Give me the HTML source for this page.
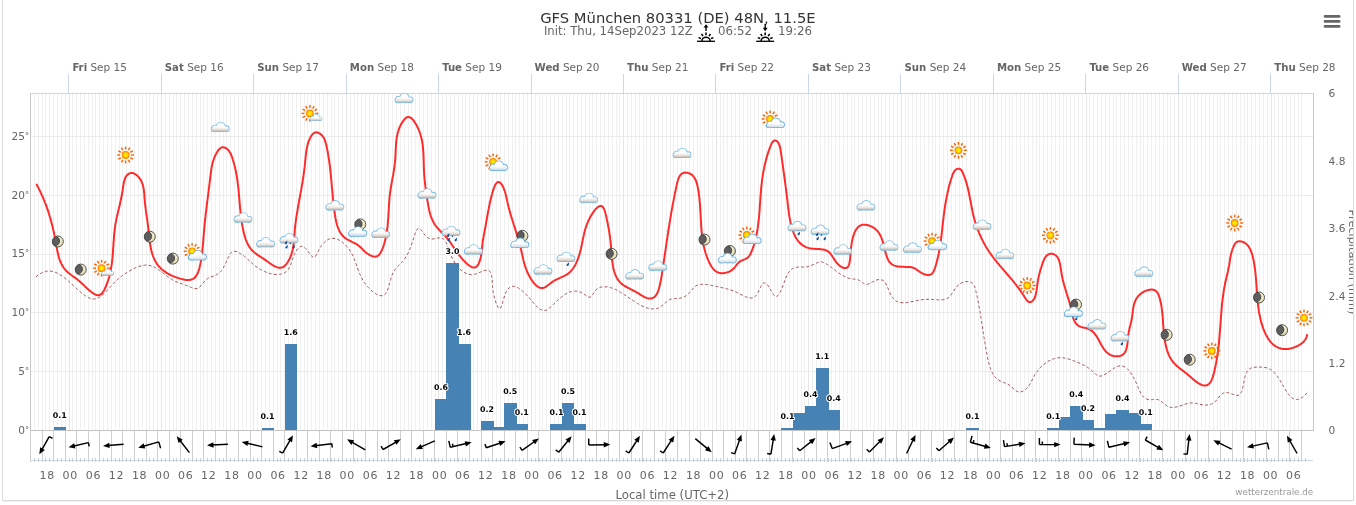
<!DOCTYPE html><html><head><meta charset="utf-8"><title>GFS München</title><style>
html,body{margin:0;padding:0;background:#fff;width:1356px;height:505px;overflow:hidden}
svg{display:block;will-change:transform}svg text{font-family:"DejaVu Sans","Liberation Sans",sans-serif}
.lbl{fill:#666;font-size:10.6px}.dl{font-size:7.9px;font-weight:bold;fill:#000;stroke:#fff;stroke-width:2px;paint-order:stroke;stroke-linejoin:round;text-anchor:middle}
</style></head><body>
<svg width="1356" height="505" viewBox="0 0 1356 505">
<defs>
<radialGradient id="sg" cx="50%" cy="50%" r="50%"><stop offset="0" stop-color="#ffff00"/><stop offset="0.55" stop-color="#ffd000"/><stop offset="1" stop-color="#ff7000"/></radialGradient>
<linearGradient id="cg" x1="0" y1="0" x2="0" y2="1"><stop offset="0" stop-color="#ffffff"/><stop offset="0.55" stop-color="#fbfbfb"/><stop offset="0.8" stop-color="#e4ddd8"/><stop offset="1" stop-color="#b9b4b0"/></linearGradient>
<g id="sun"><g stroke="#ff6200" stroke-width="1.45" stroke-linecap="butt">
<line x1="0.00" y1="-5.50" x2="0.00" y2="-8.40"/>
<line x1="2.75" y1="-4.76" x2="4.20" y2="-7.27"/>
<line x1="4.76" y1="-2.75" x2="7.27" y2="-4.20"/>
<line x1="5.50" y1="-0.00" x2="8.40" y2="-0.00"/>
<line x1="4.76" y1="2.75" x2="7.27" y2="4.20"/>
<line x1="2.75" y1="4.76" x2="4.20" y2="7.27"/>
<line x1="0.00" y1="5.50" x2="0.00" y2="8.40"/>
<line x1="-2.75" y1="4.76" x2="-4.20" y2="7.27"/>
<line x1="-4.76" y1="2.75" x2="-7.27" y2="4.20"/>
<line x1="-5.50" y1="0.00" x2="-8.40" y2="0.00"/>
<line x1="-4.76" y1="-2.75" x2="-7.27" y2="-4.20"/>
<line x1="-2.75" y1="-4.76" x2="-4.20" y2="-7.27"/>
</g><circle r="3.9" fill="url(#sg)"/></g>
<linearGradient id="cg2" gradientUnits="userSpaceOnUse" x1="0" y1="-5.5" x2="0" y2="4.6"><stop offset="0" stop-color="#ffffff"/><stop offset="0.55" stop-color="#fcfcfc"/><stop offset="0.78" stop-color="#ece6e0"/><stop offset="1" stop-color="#c2bbb5"/></linearGradient>
<linearGradient id="cg3" gradientUnits="userSpaceOnUse" x1="0" y1="-5.5" x2="0" y2="4.6"><stop offset="0" stop-color="#ffffff"/><stop offset="0.6" stop-color="#fdfdfd"/><stop offset="0.8" stop-color="#e6eef4"/><stop offset="1" stop-color="#cfdde8"/></linearGradient>
<g id="clb" transform="scale(0.94)"><g stroke="#6cb3e0" stroke-width="1.9" fill="#6cb3e0"><circle cx="-5.0" cy="1.6" r="3.0"/><circle cx="0.9" cy="-0.1" r="4.6"/><circle cx="6.9" cy="1.9" r="2.7"/><circle cx="-6.6" cy="2.4" r="2.1"/><rect x="-6.6" y="1.0" width="13.5" height="3.5"/></g><g fill="url(#cg3)"><circle cx="-5.0" cy="1.6" r="3.0"/><circle cx="0.9" cy="-0.1" r="4.6"/><circle cx="6.9" cy="1.9" r="2.7"/><circle cx="-6.6" cy="2.4" r="2.1"/><rect x="-6.6" y="1.0" width="13.5" height="3.5"/></g></g>
<g id="cl" transform="scale(0.94)"><g stroke="#7cbde6" stroke-width="1.8" fill="#7cbde6"><circle cx="-5.0" cy="1.6" r="3.0"/><circle cx="0.9" cy="-0.1" r="4.6"/><circle cx="6.9" cy="1.9" r="2.7"/><circle cx="-6.6" cy="2.4" r="2.1"/><rect x="-6.6" y="1.0" width="13.5" height="3.5"/></g><g fill="url(#cg2)"><circle cx="-5.0" cy="1.6" r="3.0"/><circle cx="0.9" cy="-0.1" r="4.6"/><circle cx="6.9" cy="1.9" r="2.7"/><circle cx="-6.6" cy="2.4" r="2.1"/><rect x="-6.6" y="1.0" width="13.5" height="3.5"/></g></g>
<clipPath id="mc"><circle r="5.5"/></clipPath><linearGradient id="mg" x1="0" y1="0" x2="0" y2="1"><stop offset="0" stop-color="#f6f3d6"/><stop offset="1" stop-color="#e2dcb0"/></linearGradient>
<g id="moon"><circle r="5.5" fill="url(#mg)"/><circle cx="-3.1" cy="-0.5" r="4.9" fill="#5d5d5d" stroke="#3c3c3c" stroke-width="0.8" clip-path="url(#mc)"/><circle r="5.5" fill="none" stroke="#3c3c3c" stroke-width="0.9"/></g>
<g id="drop"><path d="M1.3,-1.7 L-0.7,0.0 A1.05,1.05 0 1 0 0.9,1.0 Z" fill="#0b4c9e"/></g>
</defs>
<rect x="2.5" y="-5" width="1351" height="505.5" fill="none" stroke="#dadada" stroke-width="1"/>
<line x1="3" y1="501.5" x2="1353" y2="501.5" stroke="#f1f1f1" stroke-width="1"/>
<g stroke-width="1"><line x1="34.5" y1="94" x2="34.5" y2="430" stroke="#f0f0f0"/><line x1="38.5" y1="94" x2="38.5" y2="430" stroke="#f0f0f0"/><line x1="42.5" y1="94" x2="42.5" y2="430" stroke="#f0f0f0"/><line x1="45.5" y1="94" x2="45.5" y2="430" stroke="#f0f0f0"/><line x1="49.5" y1="94" x2="49.5" y2="430" stroke="#f0f0f0"/><line x1="53.5" y1="94" x2="53.5" y2="430" stroke="#f0f0f0"/><line x1="57.5" y1="94" x2="57.5" y2="430" stroke="#f0f0f0"/><line x1="61.5" y1="94" x2="61.5" y2="430" stroke="#f0f0f0"/><line x1="65.5" y1="94" x2="65.5" y2="430" stroke="#f0f0f0"/><line x1="69.5" y1="94" x2="69.5" y2="430" stroke="#e6e6e6"/><line x1="72.5" y1="94" x2="72.5" y2="430" stroke="#f0f0f0"/><line x1="76.5" y1="94" x2="76.5" y2="430" stroke="#f0f0f0"/><line x1="80.5" y1="94" x2="80.5" y2="430" stroke="#f0f0f0"/><line x1="84.5" y1="94" x2="84.5" y2="430" stroke="#f0f0f0"/><line x1="88.5" y1="94" x2="88.5" y2="430" stroke="#f0f0f0"/><line x1="92.5" y1="94" x2="92.5" y2="430" stroke="#f0f0f0"/><line x1="95.5" y1="94" x2="95.5" y2="430" stroke="#f0f0f0"/><line x1="99.5" y1="94" x2="99.5" y2="430" stroke="#f0f0f0"/><line x1="103.5" y1="94" x2="103.5" y2="430" stroke="#f0f0f0"/><line x1="107.5" y1="94" x2="107.5" y2="430" stroke="#f0f0f0"/><line x1="111.5" y1="94" x2="111.5" y2="430" stroke="#f0f0f0"/><line x1="115.5" y1="94" x2="115.5" y2="430" stroke="#f0f0f0"/><line x1="119.5" y1="94" x2="119.5" y2="430" stroke="#f0f0f0"/><line x1="122.5" y1="94" x2="122.5" y2="430" stroke="#f0f0f0"/><line x1="126.5" y1="94" x2="126.5" y2="430" stroke="#f0f0f0"/><line x1="130.5" y1="94" x2="130.5" y2="430" stroke="#f0f0f0"/><line x1="134.5" y1="94" x2="134.5" y2="430" stroke="#f0f0f0"/><line x1="138.5" y1="94" x2="138.5" y2="430" stroke="#f0f0f0"/><line x1="142.5" y1="94" x2="142.5" y2="430" stroke="#f0f0f0"/><line x1="146.5" y1="94" x2="146.5" y2="430" stroke="#f0f0f0"/><line x1="149.5" y1="94" x2="149.5" y2="430" stroke="#f0f0f0"/><line x1="153.5" y1="94" x2="153.5" y2="430" stroke="#f0f0f0"/><line x1="157.5" y1="94" x2="157.5" y2="430" stroke="#f0f0f0"/><line x1="161.5" y1="94" x2="161.5" y2="430" stroke="#e6e6e6"/><line x1="165.5" y1="94" x2="165.5" y2="430" stroke="#f0f0f0"/><line x1="169.5" y1="94" x2="169.5" y2="430" stroke="#f0f0f0"/><line x1="173.5" y1="94" x2="173.5" y2="430" stroke="#f0f0f0"/><line x1="176.5" y1="94" x2="176.5" y2="430" stroke="#f0f0f0"/><line x1="180.5" y1="94" x2="180.5" y2="430" stroke="#f0f0f0"/><line x1="184.5" y1="94" x2="184.5" y2="430" stroke="#f0f0f0"/><line x1="188.5" y1="94" x2="188.5" y2="430" stroke="#f0f0f0"/><line x1="192.5" y1="94" x2="192.5" y2="430" stroke="#f0f0f0"/><line x1="196.5" y1="94" x2="196.5" y2="430" stroke="#f0f0f0"/><line x1="200.5" y1="94" x2="200.5" y2="430" stroke="#f0f0f0"/><line x1="203.5" y1="94" x2="203.5" y2="430" stroke="#f0f0f0"/><line x1="207.5" y1="94" x2="207.5" y2="430" stroke="#f0f0f0"/><line x1="211.5" y1="94" x2="211.5" y2="430" stroke="#f0f0f0"/><line x1="215.5" y1="94" x2="215.5" y2="430" stroke="#f0f0f0"/><line x1="219.5" y1="94" x2="219.5" y2="430" stroke="#f0f0f0"/><line x1="223.5" y1="94" x2="223.5" y2="430" stroke="#f0f0f0"/><line x1="226.5" y1="94" x2="226.5" y2="430" stroke="#f0f0f0"/><line x1="230.5" y1="94" x2="230.5" y2="430" stroke="#f0f0f0"/><line x1="234.5" y1="94" x2="234.5" y2="430" stroke="#f0f0f0"/><line x1="238.5" y1="94" x2="238.5" y2="430" stroke="#f0f0f0"/><line x1="242.5" y1="94" x2="242.5" y2="430" stroke="#f0f0f0"/><line x1="246.5" y1="94" x2="246.5" y2="430" stroke="#f0f0f0"/><line x1="250.5" y1="94" x2="250.5" y2="430" stroke="#f0f0f0"/><line x1="253.5" y1="94" x2="253.5" y2="430" stroke="#e6e6e6"/><line x1="257.5" y1="94" x2="257.5" y2="430" stroke="#f0f0f0"/><line x1="261.5" y1="94" x2="261.5" y2="430" stroke="#f0f0f0"/><line x1="265.5" y1="94" x2="265.5" y2="430" stroke="#f0f0f0"/><line x1="269.5" y1="94" x2="269.5" y2="430" stroke="#f0f0f0"/><line x1="273.5" y1="94" x2="273.5" y2="430" stroke="#f0f0f0"/><line x1="277.5" y1="94" x2="277.5" y2="430" stroke="#f0f0f0"/><line x1="280.5" y1="94" x2="280.5" y2="430" stroke="#f0f0f0"/><line x1="284.5" y1="94" x2="284.5" y2="430" stroke="#f0f0f0"/><line x1="288.5" y1="94" x2="288.5" y2="430" stroke="#f0f0f0"/><line x1="292.5" y1="94" x2="292.5" y2="430" stroke="#f0f0f0"/><line x1="296.5" y1="94" x2="296.5" y2="430" stroke="#f0f0f0"/><line x1="300.5" y1="94" x2="300.5" y2="430" stroke="#f0f0f0"/><line x1="304.5" y1="94" x2="304.5" y2="430" stroke="#f0f0f0"/><line x1="307.5" y1="94" x2="307.5" y2="430" stroke="#f0f0f0"/><line x1="311.5" y1="94" x2="311.5" y2="430" stroke="#f0f0f0"/><line x1="315.5" y1="94" x2="315.5" y2="430" stroke="#f0f0f0"/><line x1="319.5" y1="94" x2="319.5" y2="430" stroke="#f0f0f0"/><line x1="323.5" y1="94" x2="323.5" y2="430" stroke="#f0f0f0"/><line x1="327.5" y1="94" x2="327.5" y2="430" stroke="#f0f0f0"/><line x1="331.5" y1="94" x2="331.5" y2="430" stroke="#f0f0f0"/><line x1="334.5" y1="94" x2="334.5" y2="430" stroke="#f0f0f0"/><line x1="338.5" y1="94" x2="338.5" y2="430" stroke="#f0f0f0"/><line x1="342.5" y1="94" x2="342.5" y2="430" stroke="#f0f0f0"/><line x1="346.5" y1="94" x2="346.5" y2="430" stroke="#e6e6e6"/><line x1="350.5" y1="94" x2="350.5" y2="430" stroke="#f0f0f0"/><line x1="354.5" y1="94" x2="354.5" y2="430" stroke="#f0f0f0"/><line x1="357.5" y1="94" x2="357.5" y2="430" stroke="#f0f0f0"/><line x1="361.5" y1="94" x2="361.5" y2="430" stroke="#f0f0f0"/><line x1="365.5" y1="94" x2="365.5" y2="430" stroke="#f0f0f0"/><line x1="369.5" y1="94" x2="369.5" y2="430" stroke="#f0f0f0"/><line x1="373.5" y1="94" x2="373.5" y2="430" stroke="#f0f0f0"/><line x1="377.5" y1="94" x2="377.5" y2="430" stroke="#f0f0f0"/><line x1="381.5" y1="94" x2="381.5" y2="430" stroke="#f0f0f0"/><line x1="384.5" y1="94" x2="384.5" y2="430" stroke="#f0f0f0"/><line x1="388.5" y1="94" x2="388.5" y2="430" stroke="#f0f0f0"/><line x1="392.5" y1="94" x2="392.5" y2="430" stroke="#f0f0f0"/><line x1="396.5" y1="94" x2="396.5" y2="430" stroke="#f0f0f0"/><line x1="400.5" y1="94" x2="400.5" y2="430" stroke="#f0f0f0"/><line x1="404.5" y1="94" x2="404.5" y2="430" stroke="#f0f0f0"/><line x1="408.5" y1="94" x2="408.5" y2="430" stroke="#f0f0f0"/><line x1="411.5" y1="94" x2="411.5" y2="430" stroke="#f0f0f0"/><line x1="415.5" y1="94" x2="415.5" y2="430" stroke="#f0f0f0"/><line x1="419.5" y1="94" x2="419.5" y2="430" stroke="#f0f0f0"/><line x1="423.5" y1="94" x2="423.5" y2="430" stroke="#f0f0f0"/><line x1="427.5" y1="94" x2="427.5" y2="430" stroke="#f0f0f0"/><line x1="431.5" y1="94" x2="431.5" y2="430" stroke="#f0f0f0"/><line x1="435.5" y1="94" x2="435.5" y2="430" stroke="#f0f0f0"/><line x1="438.5" y1="94" x2="438.5" y2="430" stroke="#e6e6e6"/><line x1="442.5" y1="94" x2="442.5" y2="430" stroke="#f0f0f0"/><line x1="446.5" y1="94" x2="446.5" y2="430" stroke="#f0f0f0"/><line x1="450.5" y1="94" x2="450.5" y2="430" stroke="#f0f0f0"/><line x1="454.5" y1="94" x2="454.5" y2="430" stroke="#f0f0f0"/><line x1="458.5" y1="94" x2="458.5" y2="430" stroke="#f0f0f0"/><line x1="462.5" y1="94" x2="462.5" y2="430" stroke="#f0f0f0"/><line x1="465.5" y1="94" x2="465.5" y2="430" stroke="#f0f0f0"/><line x1="469.5" y1="94" x2="469.5" y2="430" stroke="#f0f0f0"/><line x1="473.5" y1="94" x2="473.5" y2="430" stroke="#f0f0f0"/><line x1="477.5" y1="94" x2="477.5" y2="430" stroke="#f0f0f0"/><line x1="481.5" y1="94" x2="481.5" y2="430" stroke="#f0f0f0"/><line x1="485.5" y1="94" x2="485.5" y2="430" stroke="#f0f0f0"/><line x1="488.5" y1="94" x2="488.5" y2="430" stroke="#f0f0f0"/><line x1="492.5" y1="94" x2="492.5" y2="430" stroke="#f0f0f0"/><line x1="496.5" y1="94" x2="496.5" y2="430" stroke="#f0f0f0"/><line x1="500.5" y1="94" x2="500.5" y2="430" stroke="#f0f0f0"/><line x1="504.5" y1="94" x2="504.5" y2="430" stroke="#f0f0f0"/><line x1="508.5" y1="94" x2="508.5" y2="430" stroke="#f0f0f0"/><line x1="512.5" y1="94" x2="512.5" y2="430" stroke="#f0f0f0"/><line x1="515.5" y1="94" x2="515.5" y2="430" stroke="#f0f0f0"/><line x1="519.5" y1="94" x2="519.5" y2="430" stroke="#f0f0f0"/><line x1="523.5" y1="94" x2="523.5" y2="430" stroke="#f0f0f0"/><line x1="527.5" y1="94" x2="527.5" y2="430" stroke="#f0f0f0"/><line x1="531.5" y1="94" x2="531.5" y2="430" stroke="#e6e6e6"/><line x1="535.5" y1="94" x2="535.5" y2="430" stroke="#f0f0f0"/><line x1="539.5" y1="94" x2="539.5" y2="430" stroke="#f0f0f0"/><line x1="542.5" y1="94" x2="542.5" y2="430" stroke="#f0f0f0"/><line x1="546.5" y1="94" x2="546.5" y2="430" stroke="#f0f0f0"/><line x1="550.5" y1="94" x2="550.5" y2="430" stroke="#f0f0f0"/><line x1="554.5" y1="94" x2="554.5" y2="430" stroke="#f0f0f0"/><line x1="558.5" y1="94" x2="558.5" y2="430" stroke="#f0f0f0"/><line x1="562.5" y1="94" x2="562.5" y2="430" stroke="#f0f0f0"/><line x1="566.5" y1="94" x2="566.5" y2="430" stroke="#f0f0f0"/><line x1="569.5" y1="94" x2="569.5" y2="430" stroke="#f0f0f0"/><line x1="573.5" y1="94" x2="573.5" y2="430" stroke="#f0f0f0"/><line x1="577.5" y1="94" x2="577.5" y2="430" stroke="#f0f0f0"/><line x1="581.5" y1="94" x2="581.5" y2="430" stroke="#f0f0f0"/><line x1="585.5" y1="94" x2="585.5" y2="430" stroke="#f0f0f0"/><line x1="589.5" y1="94" x2="589.5" y2="430" stroke="#f0f0f0"/><line x1="592.5" y1="94" x2="592.5" y2="430" stroke="#f0f0f0"/><line x1="596.5" y1="94" x2="596.5" y2="430" stroke="#f0f0f0"/><line x1="600.5" y1="94" x2="600.5" y2="430" stroke="#f0f0f0"/><line x1="604.5" y1="94" x2="604.5" y2="430" stroke="#f0f0f0"/><line x1="608.5" y1="94" x2="608.5" y2="430" stroke="#f0f0f0"/><line x1="612.5" y1="94" x2="612.5" y2="430" stroke="#f0f0f0"/><line x1="616.5" y1="94" x2="616.5" y2="430" stroke="#f0f0f0"/><line x1="619.5" y1="94" x2="619.5" y2="430" stroke="#f0f0f0"/><line x1="623.5" y1="94" x2="623.5" y2="430" stroke="#e6e6e6"/><line x1="627.5" y1="94" x2="627.5" y2="430" stroke="#f0f0f0"/><line x1="631.5" y1="94" x2="631.5" y2="430" stroke="#f0f0f0"/><line x1="635.5" y1="94" x2="635.5" y2="430" stroke="#f0f0f0"/><line x1="639.5" y1="94" x2="639.5" y2="430" stroke="#f0f0f0"/><line x1="643.5" y1="94" x2="643.5" y2="430" stroke="#f0f0f0"/><line x1="646.5" y1="94" x2="646.5" y2="430" stroke="#f0f0f0"/><line x1="650.5" y1="94" x2="650.5" y2="430" stroke="#f0f0f0"/><line x1="654.5" y1="94" x2="654.5" y2="430" stroke="#f0f0f0"/><line x1="658.5" y1="94" x2="658.5" y2="430" stroke="#f0f0f0"/><line x1="662.5" y1="94" x2="662.5" y2="430" stroke="#f0f0f0"/><line x1="666.5" y1="94" x2="666.5" y2="430" stroke="#f0f0f0"/><line x1="670.5" y1="94" x2="670.5" y2="430" stroke="#f0f0f0"/><line x1="673.5" y1="94" x2="673.5" y2="430" stroke="#f0f0f0"/><line x1="677.5" y1="94" x2="677.5" y2="430" stroke="#f0f0f0"/><line x1="681.5" y1="94" x2="681.5" y2="430" stroke="#f0f0f0"/><line x1="685.5" y1="94" x2="685.5" y2="430" stroke="#f0f0f0"/><line x1="689.5" y1="94" x2="689.5" y2="430" stroke="#f0f0f0"/><line x1="693.5" y1="94" x2="693.5" y2="430" stroke="#f0f0f0"/><line x1="697.5" y1="94" x2="697.5" y2="430" stroke="#f0f0f0"/><line x1="700.5" y1="94" x2="700.5" y2="430" stroke="#f0f0f0"/><line x1="704.5" y1="94" x2="704.5" y2="430" stroke="#f0f0f0"/><line x1="708.5" y1="94" x2="708.5" y2="430" stroke="#f0f0f0"/><line x1="712.5" y1="94" x2="712.5" y2="430" stroke="#f0f0f0"/><line x1="716.5" y1="94" x2="716.5" y2="430" stroke="#e6e6e6"/><line x1="720.5" y1="94" x2="720.5" y2="430" stroke="#f0f0f0"/><line x1="723.5" y1="94" x2="723.5" y2="430" stroke="#f0f0f0"/><line x1="727.5" y1="94" x2="727.5" y2="430" stroke="#f0f0f0"/><line x1="731.5" y1="94" x2="731.5" y2="430" stroke="#f0f0f0"/><line x1="735.5" y1="94" x2="735.5" y2="430" stroke="#f0f0f0"/><line x1="739.5" y1="94" x2="739.5" y2="430" stroke="#f0f0f0"/><line x1="743.5" y1="94" x2="743.5" y2="430" stroke="#f0f0f0"/><line x1="747.5" y1="94" x2="747.5" y2="430" stroke="#f0f0f0"/><line x1="750.5" y1="94" x2="750.5" y2="430" stroke="#f0f0f0"/><line x1="754.5" y1="94" x2="754.5" y2="430" stroke="#f0f0f0"/><line x1="758.5" y1="94" x2="758.5" y2="430" stroke="#f0f0f0"/><line x1="762.5" y1="94" x2="762.5" y2="430" stroke="#f0f0f0"/><line x1="766.5" y1="94" x2="766.5" y2="430" stroke="#f0f0f0"/><line x1="770.5" y1="94" x2="770.5" y2="430" stroke="#f0f0f0"/><line x1="774.5" y1="94" x2="774.5" y2="430" stroke="#f0f0f0"/><line x1="777.5" y1="94" x2="777.5" y2="430" stroke="#f0f0f0"/><line x1="781.5" y1="94" x2="781.5" y2="430" stroke="#f0f0f0"/><line x1="785.5" y1="94" x2="785.5" y2="430" stroke="#f0f0f0"/><line x1="789.5" y1="94" x2="789.5" y2="430" stroke="#f0f0f0"/><line x1="793.5" y1="94" x2="793.5" y2="430" stroke="#f0f0f0"/><line x1="797.5" y1="94" x2="797.5" y2="430" stroke="#f0f0f0"/><line x1="801.5" y1="94" x2="801.5" y2="430" stroke="#f0f0f0"/><line x1="804.5" y1="94" x2="804.5" y2="430" stroke="#f0f0f0"/><line x1="808.5" y1="94" x2="808.5" y2="430" stroke="#e6e6e6"/><line x1="812.5" y1="94" x2="812.5" y2="430" stroke="#f0f0f0"/><line x1="816.5" y1="94" x2="816.5" y2="430" stroke="#f0f0f0"/><line x1="820.5" y1="94" x2="820.5" y2="430" stroke="#f0f0f0"/><line x1="824.5" y1="94" x2="824.5" y2="430" stroke="#f0f0f0"/><line x1="828.5" y1="94" x2="828.5" y2="430" stroke="#f0f0f0"/><line x1="831.5" y1="94" x2="831.5" y2="430" stroke="#f0f0f0"/><line x1="835.5" y1="94" x2="835.5" y2="430" stroke="#f0f0f0"/><line x1="839.5" y1="94" x2="839.5" y2="430" stroke="#f0f0f0"/><line x1="843.5" y1="94" x2="843.5" y2="430" stroke="#f0f0f0"/><line x1="847.5" y1="94" x2="847.5" y2="430" stroke="#f0f0f0"/><line x1="851.5" y1="94" x2="851.5" y2="430" stroke="#f0f0f0"/><line x1="854.5" y1="94" x2="854.5" y2="430" stroke="#f0f0f0"/><line x1="858.5" y1="94" x2="858.5" y2="430" stroke="#f0f0f0"/><line x1="862.5" y1="94" x2="862.5" y2="430" stroke="#f0f0f0"/><line x1="866.5" y1="94" x2="866.5" y2="430" stroke="#f0f0f0"/><line x1="870.5" y1="94" x2="870.5" y2="430" stroke="#f0f0f0"/><line x1="874.5" y1="94" x2="874.5" y2="430" stroke="#f0f0f0"/><line x1="878.5" y1="94" x2="878.5" y2="430" stroke="#f0f0f0"/><line x1="881.5" y1="94" x2="881.5" y2="430" stroke="#f0f0f0"/><line x1="885.5" y1="94" x2="885.5" y2="430" stroke="#f0f0f0"/><line x1="889.5" y1="94" x2="889.5" y2="430" stroke="#f0f0f0"/><line x1="893.5" y1="94" x2="893.5" y2="430" stroke="#f0f0f0"/><line x1="897.5" y1="94" x2="897.5" y2="430" stroke="#f0f0f0"/><line x1="901.5" y1="94" x2="901.5" y2="430" stroke="#e6e6e6"/><line x1="905.5" y1="94" x2="905.5" y2="430" stroke="#f0f0f0"/><line x1="908.5" y1="94" x2="908.5" y2="430" stroke="#f0f0f0"/><line x1="912.5" y1="94" x2="912.5" y2="430" stroke="#f0f0f0"/><line x1="916.5" y1="94" x2="916.5" y2="430" stroke="#f0f0f0"/><line x1="920.5" y1="94" x2="920.5" y2="430" stroke="#f0f0f0"/><line x1="924.5" y1="94" x2="924.5" y2="430" stroke="#f0f0f0"/><line x1="928.5" y1="94" x2="928.5" y2="430" stroke="#f0f0f0"/><line x1="932.5" y1="94" x2="932.5" y2="430" stroke="#f0f0f0"/><line x1="935.5" y1="94" x2="935.5" y2="430" stroke="#f0f0f0"/><line x1="939.5" y1="94" x2="939.5" y2="430" stroke="#f0f0f0"/><line x1="943.5" y1="94" x2="943.5" y2="430" stroke="#f0f0f0"/><line x1="947.5" y1="94" x2="947.5" y2="430" stroke="#f0f0f0"/><line x1="951.5" y1="94" x2="951.5" y2="430" stroke="#f0f0f0"/><line x1="955.5" y1="94" x2="955.5" y2="430" stroke="#f0f0f0"/><line x1="959.5" y1="94" x2="959.5" y2="430" stroke="#f0f0f0"/><line x1="962.5" y1="94" x2="962.5" y2="430" stroke="#f0f0f0"/><line x1="966.5" y1="94" x2="966.5" y2="430" stroke="#f0f0f0"/><line x1="970.5" y1="94" x2="970.5" y2="430" stroke="#f0f0f0"/><line x1="974.5" y1="94" x2="974.5" y2="430" stroke="#f0f0f0"/><line x1="978.5" y1="94" x2="978.5" y2="430" stroke="#f0f0f0"/><line x1="982.5" y1="94" x2="982.5" y2="430" stroke="#f0f0f0"/><line x1="985.5" y1="94" x2="985.5" y2="430" stroke="#f0f0f0"/><line x1="989.5" y1="94" x2="989.5" y2="430" stroke="#f0f0f0"/><line x1="993.5" y1="94" x2="993.5" y2="430" stroke="#e6e6e6"/><line x1="997.5" y1="94" x2="997.5" y2="430" stroke="#f0f0f0"/><line x1="1001.5" y1="94" x2="1001.5" y2="430" stroke="#f0f0f0"/><line x1="1005.5" y1="94" x2="1005.5" y2="430" stroke="#f0f0f0"/><line x1="1009.5" y1="94" x2="1009.5" y2="430" stroke="#f0f0f0"/><line x1="1012.5" y1="94" x2="1012.5" y2="430" stroke="#f0f0f0"/><line x1="1016.5" y1="94" x2="1016.5" y2="430" stroke="#f0f0f0"/><line x1="1020.5" y1="94" x2="1020.5" y2="430" stroke="#f0f0f0"/><line x1="1024.5" y1="94" x2="1024.5" y2="430" stroke="#f0f0f0"/><line x1="1028.5" y1="94" x2="1028.5" y2="430" stroke="#f0f0f0"/><line x1="1032.5" y1="94" x2="1032.5" y2="430" stroke="#f0f0f0"/><line x1="1036.5" y1="94" x2="1036.5" y2="430" stroke="#f0f0f0"/><line x1="1039.5" y1="94" x2="1039.5" y2="430" stroke="#f0f0f0"/><line x1="1043.5" y1="94" x2="1043.5" y2="430" stroke="#f0f0f0"/><line x1="1047.5" y1="94" x2="1047.5" y2="430" stroke="#f0f0f0"/><line x1="1051.5" y1="94" x2="1051.5" y2="430" stroke="#f0f0f0"/><line x1="1055.5" y1="94" x2="1055.5" y2="430" stroke="#f0f0f0"/><line x1="1059.5" y1="94" x2="1059.5" y2="430" stroke="#f0f0f0"/><line x1="1063.5" y1="94" x2="1063.5" y2="430" stroke="#f0f0f0"/><line x1="1066.5" y1="94" x2="1066.5" y2="430" stroke="#f0f0f0"/><line x1="1070.5" y1="94" x2="1070.5" y2="430" stroke="#f0f0f0"/><line x1="1074.5" y1="94" x2="1074.5" y2="430" stroke="#f0f0f0"/><line x1="1078.5" y1="94" x2="1078.5" y2="430" stroke="#f0f0f0"/><line x1="1082.5" y1="94" x2="1082.5" y2="430" stroke="#f0f0f0"/><line x1="1086.5" y1="94" x2="1086.5" y2="430" stroke="#e6e6e6"/><line x1="1089.5" y1="94" x2="1089.5" y2="430" stroke="#f0f0f0"/><line x1="1093.5" y1="94" x2="1093.5" y2="430" stroke="#f0f0f0"/><line x1="1097.5" y1="94" x2="1097.5" y2="430" stroke="#f0f0f0"/><line x1="1101.5" y1="94" x2="1101.5" y2="430" stroke="#f0f0f0"/><line x1="1105.5" y1="94" x2="1105.5" y2="430" stroke="#f0f0f0"/><line x1="1109.5" y1="94" x2="1109.5" y2="430" stroke="#f0f0f0"/><line x1="1113.5" y1="94" x2="1113.5" y2="430" stroke="#f0f0f0"/><line x1="1116.5" y1="94" x2="1116.5" y2="430" stroke="#f0f0f0"/><line x1="1120.5" y1="94" x2="1120.5" y2="430" stroke="#f0f0f0"/><line x1="1124.5" y1="94" x2="1124.5" y2="430" stroke="#f0f0f0"/><line x1="1128.5" y1="94" x2="1128.5" y2="430" stroke="#f0f0f0"/><line x1="1132.5" y1="94" x2="1132.5" y2="430" stroke="#f0f0f0"/><line x1="1136.5" y1="94" x2="1136.5" y2="430" stroke="#f0f0f0"/><line x1="1140.5" y1="94" x2="1140.5" y2="430" stroke="#f0f0f0"/><line x1="1143.5" y1="94" x2="1143.5" y2="430" stroke="#f0f0f0"/><line x1="1147.5" y1="94" x2="1147.5" y2="430" stroke="#f0f0f0"/><line x1="1151.5" y1="94" x2="1151.5" y2="430" stroke="#f0f0f0"/><line x1="1155.5" y1="94" x2="1155.5" y2="430" stroke="#f0f0f0"/><line x1="1159.5" y1="94" x2="1159.5" y2="430" stroke="#f0f0f0"/><line x1="1163.5" y1="94" x2="1163.5" y2="430" stroke="#f0f0f0"/><line x1="1167.5" y1="94" x2="1167.5" y2="430" stroke="#f0f0f0"/><line x1="1170.5" y1="94" x2="1170.5" y2="430" stroke="#f0f0f0"/><line x1="1174.5" y1="94" x2="1174.5" y2="430" stroke="#f0f0f0"/><line x1="1178.5" y1="94" x2="1178.5" y2="430" stroke="#e6e6e6"/><line x1="1182.5" y1="94" x2="1182.5" y2="430" stroke="#f0f0f0"/><line x1="1186.5" y1="94" x2="1186.5" y2="430" stroke="#f0f0f0"/><line x1="1190.5" y1="94" x2="1190.5" y2="430" stroke="#f0f0f0"/><line x1="1194.5" y1="94" x2="1194.5" y2="430" stroke="#f0f0f0"/><line x1="1197.5" y1="94" x2="1197.5" y2="430" stroke="#f0f0f0"/><line x1="1201.5" y1="94" x2="1201.5" y2="430" stroke="#f0f0f0"/><line x1="1205.5" y1="94" x2="1205.5" y2="430" stroke="#f0f0f0"/><line x1="1209.5" y1="94" x2="1209.5" y2="430" stroke="#f0f0f0"/><line x1="1213.5" y1="94" x2="1213.5" y2="430" stroke="#f0f0f0"/><line x1="1217.5" y1="94" x2="1217.5" y2="430" stroke="#f0f0f0"/><line x1="1220.5" y1="94" x2="1220.5" y2="430" stroke="#f0f0f0"/><line x1="1224.5" y1="94" x2="1224.5" y2="430" stroke="#f0f0f0"/><line x1="1228.5" y1="94" x2="1228.5" y2="430" stroke="#f0f0f0"/><line x1="1232.5" y1="94" x2="1232.5" y2="430" stroke="#f0f0f0"/><line x1="1236.5" y1="94" x2="1236.5" y2="430" stroke="#f0f0f0"/><line x1="1240.5" y1="94" x2="1240.5" y2="430" stroke="#f0f0f0"/><line x1="1244.5" y1="94" x2="1244.5" y2="430" stroke="#f0f0f0"/><line x1="1247.5" y1="94" x2="1247.5" y2="430" stroke="#f0f0f0"/><line x1="1251.5" y1="94" x2="1251.5" y2="430" stroke="#f0f0f0"/><line x1="1255.5" y1="94" x2="1255.5" y2="430" stroke="#f0f0f0"/><line x1="1259.5" y1="94" x2="1259.5" y2="430" stroke="#f0f0f0"/><line x1="1263.5" y1="94" x2="1263.5" y2="430" stroke="#f0f0f0"/><line x1="1267.5" y1="94" x2="1267.5" y2="430" stroke="#f0f0f0"/><line x1="1271.5" y1="94" x2="1271.5" y2="430" stroke="#e6e6e6"/><line x1="1274.5" y1="94" x2="1274.5" y2="430" stroke="#f0f0f0"/><line x1="1278.5" y1="94" x2="1278.5" y2="430" stroke="#f0f0f0"/><line x1="1282.5" y1="94" x2="1282.5" y2="430" stroke="#f0f0f0"/><line x1="1286.5" y1="94" x2="1286.5" y2="430" stroke="#f0f0f0"/><line x1="1290.5" y1="94" x2="1290.5" y2="430" stroke="#f0f0f0"/><line x1="1294.5" y1="94" x2="1294.5" y2="430" stroke="#f0f0f0"/><line x1="1298.5" y1="94" x2="1298.5" y2="430" stroke="#f0f0f0"/><line x1="1301.5" y1="94" x2="1301.5" y2="430" stroke="#f0f0f0"/></g>
<line x1="31" y1="371.5" x2="1313" y2="371.5" stroke="#eaeaea"/>
<line x1="31" y1="312.5" x2="1313" y2="312.5" stroke="#eaeaea"/>
<line x1="31" y1="254.5" x2="1313" y2="254.5" stroke="#eaeaea"/>
<line x1="31" y1="195.5" x2="1313" y2="195.5" stroke="#eaeaea"/>
<line x1="31" y1="136.5" x2="1313" y2="136.5" stroke="#eaeaea"/>
<g fill="#4682b4" shape-rendering="crispEdges"><rect x="54" y="427" width="12" height="3"/><rect x="262" y="428" width="12" height="2"/><rect x="285" y="344" width="12" height="86"/><rect x="435" y="399" width="12" height="31"/><rect x="446" y="263" width="13" height="167"/><rect x="458" y="344" width="13" height="86"/><rect x="481" y="421" width="13" height="9"/><rect x="493" y="427" width="12" height="3"/><rect x="504" y="403" width="13" height="27"/><rect x="516" y="424" width="12" height="6"/><rect x="550" y="424" width="13" height="6"/><rect x="562" y="403" width="12" height="27"/><rect x="573" y="424" width="13" height="6"/><rect x="781" y="428" width="13" height="2"/><rect x="793" y="413" width="13" height="17"/><rect x="805" y="406" width="12" height="24"/><rect x="816" y="368" width="13" height="62"/><rect x="828" y="410" width="12" height="20"/><rect x="966" y="428" width="13" height="2"/><rect x="1047" y="428" width="13" height="2"/><rect x="1059" y="417" width="12" height="13"/><rect x="1070" y="406" width="13" height="24"/><rect x="1082" y="420" width="12" height="10"/><rect x="1093" y="428" width="13" height="2"/><rect x="1105" y="414" width="12" height="16"/><rect x="1116" y="410" width="13" height="20"/><rect x="1128" y="413" width="13" height="17"/><rect x="1140" y="424" width="12" height="6"/></g>
<line x1="30.5" y1="93" x2="30.5" y2="461" stroke="#c8c8c8"/>
<line x1="1313.5" y1="93" x2="1313.5" y2="431" stroke="#c8c8c8"/>
<line x1="30" y1="430.5" x2="1314" y2="430.5" stroke="#c4c4c4"/>
<line x1="30" y1="93.5" x2="1314" y2="93.5" stroke="#ccd6eb"/>
<line x1="68.5" y1="74" x2="68.5" y2="93" stroke="#ccd6eb"/>
<text x="72.4" y="70.8" style="font-size:11.3px;fill:#666"><tspan style="font-weight:bold;font-family:&quot;DejaVu Sans Condensed&quot;,&quot;DejaVu Sans&quot;,sans-serif">Fri</tspan><tspan style="font-size:10.5px"> Sep 15</tspan></text>
<line x1="161.5" y1="74" x2="161.5" y2="93" stroke="#ccd6eb"/>
<text x="164.8" y="70.8" style="font-size:11.3px;fill:#666"><tspan style="font-weight:bold;font-family:&quot;DejaVu Sans Condensed&quot;,&quot;DejaVu Sans&quot;,sans-serif">Sat</tspan><tspan style="font-size:10.5px"> Sep 16</tspan></text>
<line x1="253.5" y1="74" x2="253.5" y2="93" stroke="#ccd6eb"/>
<text x="257.3" y="70.8" style="font-size:11.3px;fill:#666"><tspan style="font-weight:bold;font-family:&quot;DejaVu Sans Condensed&quot;,&quot;DejaVu Sans&quot;,sans-serif">Sun</tspan><tspan style="font-size:10.5px"> Sep 17</tspan></text>
<line x1="346.5" y1="74" x2="346.5" y2="93" stroke="#ccd6eb"/>
<text x="349.8" y="70.8" style="font-size:11.3px;fill:#666"><tspan style="font-weight:bold;font-family:&quot;DejaVu Sans Condensed&quot;,&quot;DejaVu Sans&quot;,sans-serif">Mon</tspan><tspan style="font-size:10.5px"> Sep 18</tspan></text>
<line x1="438.5" y1="74" x2="438.5" y2="93" stroke="#ccd6eb"/>
<text x="442.2" y="70.8" style="font-size:11.3px;fill:#666"><tspan style="font-weight:bold;font-family:&quot;DejaVu Sans Condensed&quot;,&quot;DejaVu Sans&quot;,sans-serif">Tue</tspan><tspan style="font-size:10.5px"> Sep 19</tspan></text>
<line x1="531.5" y1="74" x2="531.5" y2="93" stroke="#ccd6eb"/>
<text x="534.6" y="70.8" style="font-size:11.3px;fill:#666"><tspan style="font-weight:bold;font-family:&quot;DejaVu Sans Condensed&quot;,&quot;DejaVu Sans&quot;,sans-serif">Wed</tspan><tspan style="font-size:10.5px"> Sep 20</tspan></text>
<line x1="623.5" y1="74" x2="623.5" y2="93" stroke="#ccd6eb"/>
<text x="627.1" y="70.8" style="font-size:11.3px;fill:#666"><tspan style="font-weight:bold;font-family:&quot;DejaVu Sans Condensed&quot;,&quot;DejaVu Sans&quot;,sans-serif">Thu</tspan><tspan style="font-size:10.5px"> Sep 21</tspan></text>
<line x1="715.5" y1="74" x2="715.5" y2="93" stroke="#ccd6eb"/>
<text x="719.5" y="70.8" style="font-size:11.3px;fill:#666"><tspan style="font-weight:bold;font-family:&quot;DejaVu Sans Condensed&quot;,&quot;DejaVu Sans&quot;,sans-serif">Fri</tspan><tspan style="font-size:10.5px"> Sep 22</tspan></text>
<line x1="808.5" y1="74" x2="808.5" y2="93" stroke="#ccd6eb"/>
<text x="812.0" y="70.8" style="font-size:11.3px;fill:#666"><tspan style="font-weight:bold;font-family:&quot;DejaVu Sans Condensed&quot;,&quot;DejaVu Sans&quot;,sans-serif">Sat</tspan><tspan style="font-size:10.5px"> Sep 23</tspan></text>
<line x1="900.5" y1="74" x2="900.5" y2="93" stroke="#ccd6eb"/>
<text x="904.5" y="70.8" style="font-size:11.3px;fill:#666"><tspan style="font-weight:bold;font-family:&quot;DejaVu Sans Condensed&quot;,&quot;DejaVu Sans&quot;,sans-serif">Sun</tspan><tspan style="font-size:10.5px"> Sep 24</tspan></text>
<line x1="993.5" y1="74" x2="993.5" y2="93" stroke="#ccd6eb"/>
<text x="996.9" y="70.8" style="font-size:11.3px;fill:#666"><tspan style="font-weight:bold;font-family:&quot;DejaVu Sans Condensed&quot;,&quot;DejaVu Sans&quot;,sans-serif">Mon</tspan><tspan style="font-size:10.5px"> Sep 25</tspan></text>
<line x1="1085.5" y1="74" x2="1085.5" y2="93" stroke="#ccd6eb"/>
<text x="1089.4" y="70.8" style="font-size:11.3px;fill:#666"><tspan style="font-weight:bold;font-family:&quot;DejaVu Sans Condensed&quot;,&quot;DejaVu Sans&quot;,sans-serif">Tue</tspan><tspan style="font-size:10.5px"> Sep 26</tspan></text>
<line x1="1178.5" y1="74" x2="1178.5" y2="93" stroke="#ccd6eb"/>
<text x="1181.8" y="70.8" style="font-size:11.3px;fill:#666"><tspan style="font-weight:bold;font-family:&quot;DejaVu Sans Condensed&quot;,&quot;DejaVu Sans&quot;,sans-serif">Wed</tspan><tspan style="font-size:10.5px"> Sep 27</tspan></text>
<line x1="1270.5" y1="74" x2="1270.5" y2="93" stroke="#ccd6eb"/>
<text x="1274.3" y="70.8" style="font-size:11.3px;fill:#666"><tspan style="font-weight:bold;font-family:&quot;DejaVu Sans Condensed&quot;,&quot;DejaVu Sans&quot;,sans-serif">Thu</tspan><tspan style="font-size:10.5px"> Sep 28</tspan></text>
<g stroke="#cfcfcf"><line x1="30.5" y1="431" x2="30.5" y2="462" /><line x1="42.5" y1="431" x2="42.5" y2="462" /><line x1="53.5" y1="431" x2="53.5" y2="462" /><line x1="65.5" y1="431" x2="65.5" y2="462" /><line x1="76.5" y1="431" x2="76.5" y2="462" /><line x1="88.5" y1="431" x2="88.5" y2="462" /><line x1="99.5" y1="431" x2="99.5" y2="462" /><line x1="111.5" y1="431" x2="111.5" y2="462" /><line x1="122.5" y1="431" x2="122.5" y2="462" /><line x1="134.5" y1="431" x2="134.5" y2="462" /><line x1="146.5" y1="431" x2="146.5" y2="462" /><line x1="157.5" y1="431" x2="157.5" y2="462" /><line x1="169.5" y1="431" x2="169.5" y2="462" /><line x1="180.5" y1="431" x2="180.5" y2="462" /><line x1="192.5" y1="431" x2="192.5" y2="462" /><line x1="203.5" y1="431" x2="203.5" y2="462" /><line x1="215.5" y1="431" x2="215.5" y2="462" /><line x1="226.5" y1="431" x2="226.5" y2="462" /><line x1="238.5" y1="431" x2="238.5" y2="462" /><line x1="250.5" y1="431" x2="250.5" y2="462" /><line x1="261.5" y1="431" x2="261.5" y2="462" /><line x1="273.5" y1="431" x2="273.5" y2="462" /><line x1="284.5" y1="431" x2="284.5" y2="462" /><line x1="296.5" y1="431" x2="296.5" y2="462" /><line x1="307.5" y1="431" x2="307.5" y2="462" /><line x1="319.5" y1="431" x2="319.5" y2="462" /><line x1="330.5" y1="431" x2="330.5" y2="462" /><line x1="342.5" y1="431" x2="342.5" y2="462" /><line x1="353.5" y1="431" x2="353.5" y2="462" /><line x1="365.5" y1="431" x2="365.5" y2="462" /><line x1="377.5" y1="431" x2="377.5" y2="462" /><line x1="388.5" y1="431" x2="388.5" y2="462" /><line x1="400.5" y1="431" x2="400.5" y2="462" /><line x1="411.5" y1="431" x2="411.5" y2="462" /><line x1="423.5" y1="431" x2="423.5" y2="462" /><line x1="434.5" y1="431" x2="434.5" y2="462" /><line x1="446.5" y1="431" x2="446.5" y2="462" /><line x1="457.5" y1="431" x2="457.5" y2="462" /><line x1="469.5" y1="431" x2="469.5" y2="462" /><line x1="481.5" y1="431" x2="481.5" y2="462" /><line x1="492.5" y1="431" x2="492.5" y2="462" /><line x1="504.5" y1="431" x2="504.5" y2="462" /><line x1="515.5" y1="431" x2="515.5" y2="462" /><line x1="527.5" y1="431" x2="527.5" y2="462" /><line x1="538.5" y1="431" x2="538.5" y2="462" /><line x1="550.5" y1="431" x2="550.5" y2="462" /><line x1="561.5" y1="431" x2="561.5" y2="462" /><line x1="573.5" y1="431" x2="573.5" y2="462" /><line x1="585.5" y1="431" x2="585.5" y2="462" /><line x1="596.5" y1="431" x2="596.5" y2="462" /><line x1="608.5" y1="431" x2="608.5" y2="462" /><line x1="619.5" y1="431" x2="619.5" y2="462" /><line x1="631.5" y1="431" x2="631.5" y2="462" /><line x1="642.5" y1="431" x2="642.5" y2="462" /><line x1="654.5" y1="431" x2="654.5" y2="462" /><line x1="665.5" y1="431" x2="665.5" y2="462" /><line x1="677.5" y1="431" x2="677.5" y2="462" /><line x1="689.5" y1="431" x2="689.5" y2="462" /><line x1="700.5" y1="431" x2="700.5" y2="462" /><line x1="712.5" y1="431" x2="712.5" y2="462" /><line x1="723.5" y1="431" x2="723.5" y2="462" /><line x1="735.5" y1="431" x2="735.5" y2="462" /><line x1="746.5" y1="431" x2="746.5" y2="462" /><line x1="758.5" y1="431" x2="758.5" y2="462" /><line x1="769.5" y1="431" x2="769.5" y2="462" /><line x1="781.5" y1="431" x2="781.5" y2="462" /><line x1="792.5" y1="431" x2="792.5" y2="462" /><line x1="804.5" y1="431" x2="804.5" y2="462" /><line x1="816.5" y1="431" x2="816.5" y2="462" /><line x1="827.5" y1="431" x2="827.5" y2="462" /><line x1="839.5" y1="431" x2="839.5" y2="462" /><line x1="850.5" y1="431" x2="850.5" y2="462" /><line x1="862.5" y1="431" x2="862.5" y2="462" /><line x1="873.5" y1="431" x2="873.5" y2="462" /><line x1="885.5" y1="431" x2="885.5" y2="462" /><line x1="896.5" y1="431" x2="896.5" y2="462" /><line x1="908.5" y1="431" x2="908.5" y2="462" /><line x1="920.5" y1="431" x2="920.5" y2="462" /><line x1="931.5" y1="431" x2="931.5" y2="462" /><line x1="943.5" y1="431" x2="943.5" y2="462" /><line x1="954.5" y1="431" x2="954.5" y2="462" /><line x1="966.5" y1="431" x2="966.5" y2="462" /><line x1="977.5" y1="431" x2="977.5" y2="462" /><line x1="989.5" y1="431" x2="989.5" y2="462" /><line x1="1000.5" y1="431" x2="1000.5" y2="462" /><line x1="1012.5" y1="431" x2="1012.5" y2="462" /><line x1="1024.5" y1="431" x2="1024.5" y2="462" /><line x1="1035.5" y1="431" x2="1035.5" y2="462" /><line x1="1047.5" y1="431" x2="1047.5" y2="462" /><line x1="1058.5" y1="431" x2="1058.5" y2="462" /><line x1="1070.5" y1="431" x2="1070.5" y2="462" /><line x1="1081.5" y1="431" x2="1081.5" y2="462" /><line x1="1093.5" y1="431" x2="1093.5" y2="462" /><line x1="1104.5" y1="431" x2="1104.5" y2="462" /><line x1="1116.5" y1="431" x2="1116.5" y2="462" /><line x1="1128.5" y1="431" x2="1128.5" y2="462" /><line x1="1139.5" y1="431" x2="1139.5" y2="462" /><line x1="1151.5" y1="431" x2="1151.5" y2="462" /><line x1="1162.5" y1="431" x2="1162.5" y2="462" /><line x1="1174.5" y1="431" x2="1174.5" y2="462" /><line x1="1185.5" y1="431" x2="1185.5" y2="462" /><line x1="1197.5" y1="431" x2="1197.5" y2="462" /><line x1="1208.5" y1="431" x2="1208.5" y2="462" /><line x1="1220.5" y1="431" x2="1220.5" y2="462" /><line x1="1232.5" y1="431" x2="1232.5" y2="462" /><line x1="1243.5" y1="431" x2="1243.5" y2="462" /><line x1="1255.5" y1="431" x2="1255.5" y2="462" /><line x1="1266.5" y1="431" x2="1266.5" y2="462" /><line x1="1278.5" y1="431" x2="1278.5" y2="462" /><line x1="1289.5" y1="431" x2="1289.5" y2="462" /><line x1="1301.5" y1="431" x2="1301.5" y2="462" /></g>
<g stroke="#cccccc"><line x1="34.5" y1="458" x2="34.5" y2="462"/><line x1="38.5" y1="458" x2="38.5" y2="462"/><line x1="42.5" y1="458" x2="42.5" y2="462"/><line x1="45.5" y1="458" x2="45.5" y2="462"/><line x1="49.5" y1="458" x2="49.5" y2="462"/><line x1="53.5" y1="458" x2="53.5" y2="462"/><line x1="57.5" y1="458" x2="57.5" y2="462"/><line x1="61.5" y1="458" x2="61.5" y2="462"/><line x1="65.5" y1="458" x2="65.5" y2="462"/><line x1="69.5" y1="458" x2="69.5" y2="462"/><line x1="72.5" y1="458" x2="72.5" y2="462"/><line x1="76.5" y1="458" x2="76.5" y2="462"/><line x1="80.5" y1="458" x2="80.5" y2="462"/><line x1="84.5" y1="458" x2="84.5" y2="462"/><line x1="88.5" y1="458" x2="88.5" y2="462"/><line x1="92.5" y1="458" x2="92.5" y2="462"/><line x1="95.5" y1="458" x2="95.5" y2="462"/><line x1="99.5" y1="458" x2="99.5" y2="462"/><line x1="103.5" y1="458" x2="103.5" y2="462"/><line x1="107.5" y1="458" x2="107.5" y2="462"/><line x1="111.5" y1="458" x2="111.5" y2="462"/><line x1="115.5" y1="458" x2="115.5" y2="462"/><line x1="119.5" y1="458" x2="119.5" y2="462"/><line x1="122.5" y1="458" x2="122.5" y2="462"/><line x1="126.5" y1="458" x2="126.5" y2="462"/><line x1="130.5" y1="458" x2="130.5" y2="462"/><line x1="134.5" y1="458" x2="134.5" y2="462"/><line x1="138.5" y1="458" x2="138.5" y2="462"/><line x1="142.5" y1="458" x2="142.5" y2="462"/><line x1="146.5" y1="458" x2="146.5" y2="462"/><line x1="149.5" y1="458" x2="149.5" y2="462"/><line x1="153.5" y1="458" x2="153.5" y2="462"/><line x1="157.5" y1="458" x2="157.5" y2="462"/><line x1="161.5" y1="458" x2="161.5" y2="462"/><line x1="165.5" y1="458" x2="165.5" y2="462"/><line x1="169.5" y1="458" x2="169.5" y2="462"/><line x1="173.5" y1="458" x2="173.5" y2="462"/><line x1="176.5" y1="458" x2="176.5" y2="462"/><line x1="180.5" y1="458" x2="180.5" y2="462"/><line x1="184.5" y1="458" x2="184.5" y2="462"/><line x1="188.5" y1="458" x2="188.5" y2="462"/><line x1="192.5" y1="458" x2="192.5" y2="462"/><line x1="196.5" y1="458" x2="196.5" y2="462"/><line x1="200.5" y1="458" x2="200.5" y2="462"/><line x1="203.5" y1="458" x2="203.5" y2="462"/><line x1="207.5" y1="458" x2="207.5" y2="462"/><line x1="211.5" y1="458" x2="211.5" y2="462"/><line x1="215.5" y1="458" x2="215.5" y2="462"/><line x1="219.5" y1="458" x2="219.5" y2="462"/><line x1="223.5" y1="458" x2="223.5" y2="462"/><line x1="226.5" y1="458" x2="226.5" y2="462"/><line x1="230.5" y1="458" x2="230.5" y2="462"/><line x1="234.5" y1="458" x2="234.5" y2="462"/><line x1="238.5" y1="458" x2="238.5" y2="462"/><line x1="242.5" y1="458" x2="242.5" y2="462"/><line x1="246.5" y1="458" x2="246.5" y2="462"/><line x1="250.5" y1="458" x2="250.5" y2="462"/><line x1="253.5" y1="458" x2="253.5" y2="462"/><line x1="257.5" y1="458" x2="257.5" y2="462"/><line x1="261.5" y1="458" x2="261.5" y2="462"/><line x1="265.5" y1="458" x2="265.5" y2="462"/><line x1="269.5" y1="458" x2="269.5" y2="462"/><line x1="273.5" y1="458" x2="273.5" y2="462"/><line x1="277.5" y1="458" x2="277.5" y2="462"/><line x1="280.5" y1="458" x2="280.5" y2="462"/><line x1="284.5" y1="458" x2="284.5" y2="462"/><line x1="288.5" y1="458" x2="288.5" y2="462"/><line x1="292.5" y1="458" x2="292.5" y2="462"/><line x1="296.5" y1="458" x2="296.5" y2="462"/><line x1="300.5" y1="458" x2="300.5" y2="462"/><line x1="304.5" y1="458" x2="304.5" y2="462"/><line x1="307.5" y1="458" x2="307.5" y2="462"/><line x1="311.5" y1="458" x2="311.5" y2="462"/><line x1="315.5" y1="458" x2="315.5" y2="462"/><line x1="319.5" y1="458" x2="319.5" y2="462"/><line x1="323.5" y1="458" x2="323.5" y2="462"/><line x1="327.5" y1="458" x2="327.5" y2="462"/><line x1="331.5" y1="458" x2="331.5" y2="462"/><line x1="334.5" y1="458" x2="334.5" y2="462"/><line x1="338.5" y1="458" x2="338.5" y2="462"/><line x1="342.5" y1="458" x2="342.5" y2="462"/><line x1="346.5" y1="458" x2="346.5" y2="462"/><line x1="350.5" y1="458" x2="350.5" y2="462"/><line x1="354.5" y1="458" x2="354.5" y2="462"/><line x1="357.5" y1="458" x2="357.5" y2="462"/><line x1="361.5" y1="458" x2="361.5" y2="462"/><line x1="365.5" y1="458" x2="365.5" y2="462"/><line x1="369.5" y1="458" x2="369.5" y2="462"/><line x1="373.5" y1="458" x2="373.5" y2="462"/><line x1="377.5" y1="458" x2="377.5" y2="462"/><line x1="381.5" y1="458" x2="381.5" y2="462"/><line x1="384.5" y1="458" x2="384.5" y2="462"/><line x1="388.5" y1="458" x2="388.5" y2="462"/><line x1="392.5" y1="458" x2="392.5" y2="462"/><line x1="396.5" y1="458" x2="396.5" y2="462"/><line x1="400.5" y1="458" x2="400.5" y2="462"/><line x1="404.5" y1="458" x2="404.5" y2="462"/><line x1="408.5" y1="458" x2="408.5" y2="462"/><line x1="411.5" y1="458" x2="411.5" y2="462"/><line x1="415.5" y1="458" x2="415.5" y2="462"/><line x1="419.5" y1="458" x2="419.5" y2="462"/><line x1="423.5" y1="458" x2="423.5" y2="462"/><line x1="427.5" y1="458" x2="427.5" y2="462"/><line x1="431.5" y1="458" x2="431.5" y2="462"/><line x1="435.5" y1="458" x2="435.5" y2="462"/><line x1="438.5" y1="458" x2="438.5" y2="462"/><line x1="442.5" y1="458" x2="442.5" y2="462"/><line x1="446.5" y1="458" x2="446.5" y2="462"/><line x1="450.5" y1="458" x2="450.5" y2="462"/><line x1="454.5" y1="458" x2="454.5" y2="462"/><line x1="458.5" y1="458" x2="458.5" y2="462"/><line x1="462.5" y1="458" x2="462.5" y2="462"/><line x1="465.5" y1="458" x2="465.5" y2="462"/><line x1="469.5" y1="458" x2="469.5" y2="462"/><line x1="473.5" y1="458" x2="473.5" y2="462"/><line x1="477.5" y1="458" x2="477.5" y2="462"/><line x1="481.5" y1="458" x2="481.5" y2="462"/><line x1="485.5" y1="458" x2="485.5" y2="462"/><line x1="488.5" y1="458" x2="488.5" y2="462"/><line x1="492.5" y1="458" x2="492.5" y2="462"/><line x1="496.5" y1="458" x2="496.5" y2="462"/><line x1="500.5" y1="458" x2="500.5" y2="462"/><line x1="504.5" y1="458" x2="504.5" y2="462"/><line x1="508.5" y1="458" x2="508.5" y2="462"/><line x1="512.5" y1="458" x2="512.5" y2="462"/><line x1="515.5" y1="458" x2="515.5" y2="462"/><line x1="519.5" y1="458" x2="519.5" y2="462"/><line x1="523.5" y1="458" x2="523.5" y2="462"/><line x1="527.5" y1="458" x2="527.5" y2="462"/><line x1="531.5" y1="458" x2="531.5" y2="462"/><line x1="535.5" y1="458" x2="535.5" y2="462"/><line x1="539.5" y1="458" x2="539.5" y2="462"/><line x1="542.5" y1="458" x2="542.5" y2="462"/><line x1="546.5" y1="458" x2="546.5" y2="462"/><line x1="550.5" y1="458" x2="550.5" y2="462"/><line x1="554.5" y1="458" x2="554.5" y2="462"/><line x1="558.5" y1="458" x2="558.5" y2="462"/><line x1="562.5" y1="458" x2="562.5" y2="462"/><line x1="566.5" y1="458" x2="566.5" y2="462"/><line x1="569.5" y1="458" x2="569.5" y2="462"/><line x1="573.5" y1="458" x2="573.5" y2="462"/><line x1="577.5" y1="458" x2="577.5" y2="462"/><line x1="581.5" y1="458" x2="581.5" y2="462"/><line x1="585.5" y1="458" x2="585.5" y2="462"/><line x1="589.5" y1="458" x2="589.5" y2="462"/><line x1="592.5" y1="458" x2="592.5" y2="462"/><line x1="596.5" y1="458" x2="596.5" y2="462"/><line x1="600.5" y1="458" x2="600.5" y2="462"/><line x1="604.5" y1="458" x2="604.5" y2="462"/><line x1="608.5" y1="458" x2="608.5" y2="462"/><line x1="612.5" y1="458" x2="612.5" y2="462"/><line x1="616.5" y1="458" x2="616.5" y2="462"/><line x1="619.5" y1="458" x2="619.5" y2="462"/><line x1="623.5" y1="458" x2="623.5" y2="462"/><line x1="627.5" y1="458" x2="627.5" y2="462"/><line x1="631.5" y1="458" x2="631.5" y2="462"/><line x1="635.5" y1="458" x2="635.5" y2="462"/><line x1="639.5" y1="458" x2="639.5" y2="462"/><line x1="643.5" y1="458" x2="643.5" y2="462"/><line x1="646.5" y1="458" x2="646.5" y2="462"/><line x1="650.5" y1="458" x2="650.5" y2="462"/><line x1="654.5" y1="458" x2="654.5" y2="462"/><line x1="658.5" y1="458" x2="658.5" y2="462"/><line x1="662.5" y1="458" x2="662.5" y2="462"/><line x1="666.5" y1="458" x2="666.5" y2="462"/><line x1="670.5" y1="458" x2="670.5" y2="462"/><line x1="673.5" y1="458" x2="673.5" y2="462"/><line x1="677.5" y1="458" x2="677.5" y2="462"/><line x1="681.5" y1="458" x2="681.5" y2="462"/><line x1="685.5" y1="458" x2="685.5" y2="462"/><line x1="689.5" y1="458" x2="689.5" y2="462"/><line x1="693.5" y1="458" x2="693.5" y2="462"/><line x1="697.5" y1="458" x2="697.5" y2="462"/><line x1="700.5" y1="458" x2="700.5" y2="462"/><line x1="704.5" y1="458" x2="704.5" y2="462"/><line x1="708.5" y1="458" x2="708.5" y2="462"/><line x1="712.5" y1="458" x2="712.5" y2="462"/><line x1="716.5" y1="458" x2="716.5" y2="462"/><line x1="720.5" y1="458" x2="720.5" y2="462"/><line x1="723.5" y1="458" x2="723.5" y2="462"/><line x1="727.5" y1="458" x2="727.5" y2="462"/><line x1="731.5" y1="458" x2="731.5" y2="462"/><line x1="735.5" y1="458" x2="735.5" y2="462"/><line x1="739.5" y1="458" x2="739.5" y2="462"/><line x1="743.5" y1="458" x2="743.5" y2="462"/><line x1="747.5" y1="458" x2="747.5" y2="462"/><line x1="750.5" y1="458" x2="750.5" y2="462"/><line x1="754.5" y1="458" x2="754.5" y2="462"/><line x1="758.5" y1="458" x2="758.5" y2="462"/><line x1="762.5" y1="458" x2="762.5" y2="462"/><line x1="766.5" y1="458" x2="766.5" y2="462"/><line x1="770.5" y1="458" x2="770.5" y2="462"/><line x1="774.5" y1="458" x2="774.5" y2="462"/><line x1="777.5" y1="458" x2="777.5" y2="462"/><line x1="781.5" y1="458" x2="781.5" y2="462"/><line x1="785.5" y1="458" x2="785.5" y2="462"/><line x1="789.5" y1="458" x2="789.5" y2="462"/><line x1="793.5" y1="458" x2="793.5" y2="462"/><line x1="797.5" y1="458" x2="797.5" y2="462"/><line x1="801.5" y1="458" x2="801.5" y2="462"/><line x1="804.5" y1="458" x2="804.5" y2="462"/><line x1="808.5" y1="458" x2="808.5" y2="462"/><line x1="812.5" y1="458" x2="812.5" y2="462"/><line x1="816.5" y1="458" x2="816.5" y2="462"/><line x1="820.5" y1="458" x2="820.5" y2="462"/><line x1="824.5" y1="458" x2="824.5" y2="462"/><line x1="828.5" y1="458" x2="828.5" y2="462"/><line x1="831.5" y1="458" x2="831.5" y2="462"/><line x1="835.5" y1="458" x2="835.5" y2="462"/><line x1="839.5" y1="458" x2="839.5" y2="462"/><line x1="843.5" y1="458" x2="843.5" y2="462"/><line x1="847.5" y1="458" x2="847.5" y2="462"/><line x1="851.5" y1="458" x2="851.5" y2="462"/><line x1="854.5" y1="458" x2="854.5" y2="462"/><line x1="858.5" y1="458" x2="858.5" y2="462"/><line x1="862.5" y1="458" x2="862.5" y2="462"/><line x1="866.5" y1="458" x2="866.5" y2="462"/><line x1="870.5" y1="458" x2="870.5" y2="462"/><line x1="874.5" y1="458" x2="874.5" y2="462"/><line x1="878.5" y1="458" x2="878.5" y2="462"/><line x1="881.5" y1="458" x2="881.5" y2="462"/><line x1="885.5" y1="458" x2="885.5" y2="462"/><line x1="889.5" y1="458" x2="889.5" y2="462"/><line x1="893.5" y1="458" x2="893.5" y2="462"/><line x1="897.5" y1="458" x2="897.5" y2="462"/><line x1="901.5" y1="458" x2="901.5" y2="462"/><line x1="905.5" y1="458" x2="905.5" y2="462"/><line x1="908.5" y1="458" x2="908.5" y2="462"/><line x1="912.5" y1="458" x2="912.5" y2="462"/><line x1="916.5" y1="458" x2="916.5" y2="462"/><line x1="920.5" y1="458" x2="920.5" y2="462"/><line x1="924.5" y1="458" x2="924.5" y2="462"/><line x1="928.5" y1="458" x2="928.5" y2="462"/><line x1="932.5" y1="458" x2="932.5" y2="462"/><line x1="935.5" y1="458" x2="935.5" y2="462"/><line x1="939.5" y1="458" x2="939.5" y2="462"/><line x1="943.5" y1="458" x2="943.5" y2="462"/><line x1="947.5" y1="458" x2="947.5" y2="462"/><line x1="951.5" y1="458" x2="951.5" y2="462"/><line x1="955.5" y1="458" x2="955.5" y2="462"/><line x1="959.5" y1="458" x2="959.5" y2="462"/><line x1="962.5" y1="458" x2="962.5" y2="462"/><line x1="966.5" y1="458" x2="966.5" y2="462"/><line x1="970.5" y1="458" x2="970.5" y2="462"/><line x1="974.5" y1="458" x2="974.5" y2="462"/><line x1="978.5" y1="458" x2="978.5" y2="462"/><line x1="982.5" y1="458" x2="982.5" y2="462"/><line x1="985.5" y1="458" x2="985.5" y2="462"/><line x1="989.5" y1="458" x2="989.5" y2="462"/><line x1="993.5" y1="458" x2="993.5" y2="462"/><line x1="997.5" y1="458" x2="997.5" y2="462"/><line x1="1001.5" y1="458" x2="1001.5" y2="462"/><line x1="1005.5" y1="458" x2="1005.5" y2="462"/><line x1="1009.5" y1="458" x2="1009.5" y2="462"/><line x1="1012.5" y1="458" x2="1012.5" y2="462"/><line x1="1016.5" y1="458" x2="1016.5" y2="462"/><line x1="1020.5" y1="458" x2="1020.5" y2="462"/><line x1="1024.5" y1="458" x2="1024.5" y2="462"/><line x1="1028.5" y1="458" x2="1028.5" y2="462"/><line x1="1032.5" y1="458" x2="1032.5" y2="462"/><line x1="1036.5" y1="458" x2="1036.5" y2="462"/><line x1="1039.5" y1="458" x2="1039.5" y2="462"/><line x1="1043.5" y1="458" x2="1043.5" y2="462"/><line x1="1047.5" y1="458" x2="1047.5" y2="462"/><line x1="1051.5" y1="458" x2="1051.5" y2="462"/><line x1="1055.5" y1="458" x2="1055.5" y2="462"/><line x1="1059.5" y1="458" x2="1059.5" y2="462"/><line x1="1063.5" y1="458" x2="1063.5" y2="462"/><line x1="1066.5" y1="458" x2="1066.5" y2="462"/><line x1="1070.5" y1="458" x2="1070.5" y2="462"/><line x1="1074.5" y1="458" x2="1074.5" y2="462"/><line x1="1078.5" y1="458" x2="1078.5" y2="462"/><line x1="1082.5" y1="458" x2="1082.5" y2="462"/><line x1="1086.5" y1="458" x2="1086.5" y2="462"/><line x1="1089.5" y1="458" x2="1089.5" y2="462"/><line x1="1093.5" y1="458" x2="1093.5" y2="462"/><line x1="1097.5" y1="458" x2="1097.5" y2="462"/><line x1="1101.5" y1="458" x2="1101.5" y2="462"/><line x1="1105.5" y1="458" x2="1105.5" y2="462"/><line x1="1109.5" y1="458" x2="1109.5" y2="462"/><line x1="1113.5" y1="458" x2="1113.5" y2="462"/><line x1="1116.5" y1="458" x2="1116.5" y2="462"/><line x1="1120.5" y1="458" x2="1120.5" y2="462"/><line x1="1124.5" y1="458" x2="1124.5" y2="462"/><line x1="1128.5" y1="458" x2="1128.5" y2="462"/><line x1="1132.5" y1="458" x2="1132.5" y2="462"/><line x1="1136.5" y1="458" x2="1136.5" y2="462"/><line x1="1140.5" y1="458" x2="1140.5" y2="462"/><line x1="1143.5" y1="458" x2="1143.5" y2="462"/><line x1="1147.5" y1="458" x2="1147.5" y2="462"/><line x1="1151.5" y1="458" x2="1151.5" y2="462"/><line x1="1155.5" y1="458" x2="1155.5" y2="462"/><line x1="1159.5" y1="458" x2="1159.5" y2="462"/><line x1="1163.5" y1="458" x2="1163.5" y2="462"/><line x1="1167.5" y1="458" x2="1167.5" y2="462"/><line x1="1170.5" y1="458" x2="1170.5" y2="462"/><line x1="1174.5" y1="458" x2="1174.5" y2="462"/><line x1="1178.5" y1="458" x2="1178.5" y2="462"/><line x1="1182.5" y1="458" x2="1182.5" y2="462"/><line x1="1186.5" y1="458" x2="1186.5" y2="462"/><line x1="1190.5" y1="458" x2="1190.5" y2="462"/><line x1="1194.5" y1="458" x2="1194.5" y2="462"/><line x1="1197.5" y1="458" x2="1197.5" y2="462"/><line x1="1201.5" y1="458" x2="1201.5" y2="462"/><line x1="1205.5" y1="458" x2="1205.5" y2="462"/><line x1="1209.5" y1="458" x2="1209.5" y2="462"/><line x1="1213.5" y1="458" x2="1213.5" y2="462"/><line x1="1217.5" y1="458" x2="1217.5" y2="462"/><line x1="1220.5" y1="458" x2="1220.5" y2="462"/><line x1="1224.5" y1="458" x2="1224.5" y2="462"/><line x1="1228.5" y1="458" x2="1228.5" y2="462"/><line x1="1232.5" y1="458" x2="1232.5" y2="462"/><line x1="1236.5" y1="458" x2="1236.5" y2="462"/><line x1="1240.5" y1="458" x2="1240.5" y2="462"/><line x1="1244.5" y1="458" x2="1244.5" y2="462"/><line x1="1247.5" y1="458" x2="1247.5" y2="462"/><line x1="1251.5" y1="458" x2="1251.5" y2="462"/><line x1="1255.5" y1="458" x2="1255.5" y2="462"/><line x1="1259.5" y1="458" x2="1259.5" y2="462"/><line x1="1263.5" y1="458" x2="1263.5" y2="462"/><line x1="1267.5" y1="458" x2="1267.5" y2="462"/><line x1="1271.5" y1="458" x2="1271.5" y2="462"/><line x1="1274.5" y1="458" x2="1274.5" y2="462"/><line x1="1278.5" y1="458" x2="1278.5" y2="462"/><line x1="1282.5" y1="458" x2="1282.5" y2="462"/><line x1="1286.5" y1="458" x2="1286.5" y2="462"/><line x1="1290.5" y1="458" x2="1290.5" y2="462"/><line x1="1294.5" y1="458" x2="1294.5" y2="462"/><line x1="1298.5" y1="458" x2="1298.5" y2="462"/><line x1="1301.5" y1="458" x2="1301.5" y2="462"/><line x1="1305.5" y1="458" x2="1305.5" y2="462"/></g>
<line x1="30" y1="460.5" x2="1313" y2="460.5" stroke="#ccd6eb"/>
<path d="M35.9,276.9 37.0,275.9 38.1,275.0 39.2,274.3 40.3,273.6 41.4,273.0 42.5,272.4 43.6,272.0 44.6,271.7 45.7,271.4 46.7,271.2 47.7,271.1 48.8,271.1 49.8,271.1 50.8,271.2 51.8,271.3 52.8,271.5 53.9,271.8 54.9,272.2 55.9,272.5 56.9,273.0 57.8,273.5 58.8,274.0 59.8,274.6 60.8,275.2 61.8,275.9 62.8,276.6 63.8,277.3 64.7,278.0 65.7,278.8 66.7,279.6 67.7,280.5 68.7,281.3 69.6,282.2 70.6,283.1 71.6,284.0 72.6,284.9 73.6,285.8 74.6,286.7 75.6,287.7 76.6,288.6 77.6,289.5 78.6,290.4 79.6,291.3 80.6,292.2 81.6,293.1 82.6,293.9 83.6,294.6 84.6,295.4 85.6,296.0 86.6,296.7 87.6,297.2 88.6,297.7 89.6,298.1 90.6,298.5 91.6,298.8 92.5,298.9 93.5,299.0 94.5,299.0 95.4,298.8 96.4,298.6 97.3,298.3 98.2,297.8 99.2,297.4 100.1,296.8 101.0,296.1 101.9,295.4 102.8,294.7 103.7,293.9 104.6,293.0 105.5,292.2 106.3,291.3 107.2,290.3 108.1,289.4 108.9,288.4 109.8,287.5 110.6,286.5 111.5,285.6 112.3,284.7 113.1,283.8 114.0,282.9 114.8,282.1 115.6,281.3 116.5,280.5 117.3,279.7 118.1,279.0 119.0,278.3 119.8,277.6 120.7,276.9 121.5,276.2 122.4,275.6 123.3,274.9 124.2,274.3 125.1,273.7 126.1,273.1 127.0,272.4 128.0,271.8 129.1,271.2 130.1,270.6 131.1,270.0 132.2,269.4 133.3,268.8 134.4,268.3 135.5,267.8 136.6,267.3 137.7,266.8 138.9,266.4 140.0,266.1 141.1,265.8 142.3,265.5 143.4,265.3 144.5,265.2 145.6,265.1 146.8,265.1 147.9,265.2 149.0,265.3 150.1,265.6 151.1,265.9 152.2,266.2 153.3,266.7 154.3,267.2 155.4,267.7 156.4,268.4 157.4,269.0 158.4,269.7 159.5,270.4 160.5,271.2 161.5,271.9 162.5,272.7 163.5,273.5 164.5,274.3 165.5,275.1 166.5,275.9 167.5,276.6 168.5,277.4 169.5,278.1 170.6,278.8 171.6,279.4 172.6,280.0 173.6,280.5 174.7,281.1 175.7,281.5 176.8,282.0 177.9,282.4 178.9,282.9 180.0,283.3 181.1,283.6 182.2,284.0 183.3,284.4 184.5,284.8 185.6,285.3 186.8,285.7 187.9,286.1 189.1,286.6 190.3,287.1 191.5,287.6 192.7,288.1 193.8,288.4 195.0,288.7 196.0,288.7 197.0,288.6 198.0,288.2 198.9,287.6 199.7,286.9 200.6,286.1 201.4,285.1 202.2,284.1 203.0,283.1 203.9,282.1 204.7,281.1 205.6,280.2 206.6,279.3 207.6,278.6 208.6,278.0 209.7,277.5 210.8,277.0 212.0,276.6 213.1,276.1 214.2,275.7 215.3,275.3 216.3,274.8 217.3,274.3 218.2,273.7 219.1,273.0 219.9,272.3 220.7,271.5 221.4,270.6 222.1,269.7 222.7,268.8 223.3,267.8 223.9,266.7 224.5,265.7 225.1,264.6 225.6,263.4 226.1,262.3 226.6,261.1 227.2,260.0 227.7,258.8 228.2,257.6 228.8,256.4 229.3,255.3 229.9,254.3 230.6,253.3 231.3,252.5 232.1,251.9 232.9,251.4 233.9,251.2 234.9,251.3 236.1,251.5 237.2,251.9 238.3,252.4 239.4,253.0 240.5,253.6 241.5,254.2 242.5,254.9 243.5,255.6 244.4,256.3 245.3,257.1 246.2,257.9 247.1,258.7 247.9,259.5 248.8,260.3 249.7,261.1 250.5,261.9 251.4,262.7 252.3,263.5 253.2,264.3 254.2,265.1 255.1,265.8 256.1,266.6 257.1,267.3 258.1,268.0 259.1,268.7 260.2,269.3 261.3,269.9 262.4,270.5 263.5,271.0 264.6,271.6 265.7,272.0 266.8,272.5 268.0,272.9 269.1,273.2 270.3,273.6 271.5,273.8 272.6,274.1 273.8,274.2 275.0,274.4 276.1,274.4 277.3,274.4 278.4,274.4 279.5,274.3 280.6,274.1 281.7,273.9 282.7,273.5 283.7,273.1 284.7,272.7 285.5,272.1 286.4,271.5 287.2,270.8 287.9,270.0 288.5,269.1 289.1,268.1 289.6,267.0 290.1,265.9 290.6,264.8 291.1,263.6 291.5,262.3 291.9,261.1 292.4,259.8 292.8,258.5 293.3,257.2 293.8,255.9 294.3,254.7 294.8,253.4 295.5,252.2 296.2,251.0 296.9,249.9 297.7,248.9 298.5,248.0 299.4,247.2 300.3,246.7 301.3,246.4 302.2,246.3 303.1,246.5 304.1,247.0 305.0,247.8 305.9,248.7 306.8,249.7 307.7,250.9 308.6,252.1 309.4,253.2 310.2,254.3 311.0,255.3 311.8,256.2 312.5,256.9 313.2,257.3 313.9,257.4 314.6,257.2 315.2,256.8 315.7,256.0 316.3,255.1 316.9,254.1 317.5,252.9 318.1,251.6 318.7,250.3 319.3,249.1 320.0,247.8 320.8,246.7 321.5,245.5 322.4,244.5 323.2,243.5 324.1,242.6 325.0,241.7 325.9,241.0 326.9,240.3 327.8,239.7 328.8,239.2 329.9,238.8 330.9,238.5 331.9,238.4 333.0,238.3 334.1,238.4 335.2,238.6 336.3,238.9 337.3,239.2 338.4,239.7 339.5,240.3 340.6,240.9 341.6,241.6 342.6,242.4 343.6,243.2 344.6,244.1 345.5,245.0 346.4,246.0 347.3,246.9 348.1,247.9 348.9,248.9 349.6,249.9 350.2,251.0 350.9,252.0 351.5,253.0 352.0,254.1 352.6,255.1 353.1,256.2 353.5,257.2 354.0,258.3 354.4,259.3 354.8,260.4 355.2,261.5 355.6,262.6 356.0,263.7 356.4,264.8 356.8,265.9 357.1,266.9 357.5,268.0 357.9,269.1 358.3,270.2 358.7,271.3 359.1,272.4 359.6,273.5 360.1,274.6 360.5,275.7 361.1,276.8 361.6,277.9 362.2,279.0 362.8,280.1 363.5,281.2 364.2,282.3 364.9,283.3 365.7,284.4 366.5,285.5 367.4,286.5 368.3,287.5 369.3,288.5 370.2,289.5 371.2,290.4 372.2,291.3 373.2,292.1 374.3,292.8 375.3,293.5 376.3,294.1 377.3,294.6 378.3,295.0 379.2,295.4 380.1,295.6 381.0,295.7 381.9,295.7 382.7,295.6 383.5,295.3 384.2,295.0 384.9,294.4 385.5,293.8 386.0,293.0 386.6,292.1 387.1,291.1 387.5,290.0 387.9,288.9 388.3,287.7 388.7,286.4 389.1,285.1 389.5,283.7 389.9,282.3 390.3,281.0 390.7,279.6 391.1,278.2 391.5,276.9 392.0,275.5 392.4,274.3 393.0,273.0 393.5,271.9 394.2,270.8 394.8,269.8 395.5,268.9 396.3,268.0 397.0,267.2 397.8,266.4 398.6,265.6 399.4,264.9 400.2,264.1 401.0,263.4 401.7,262.5 402.4,261.7 403.1,260.9 403.8,260.0 404.4,259.1 405.1,258.2 405.7,257.2 406.3,256.2 406.9,255.2 407.4,254.2 408.0,253.2 408.5,252.1 409.0,251.0 409.5,249.9 410.0,248.7 410.4,247.6 410.9,246.4 411.3,245.2 411.8,243.9 412.2,242.7 412.6,241.4 413.0,240.1 413.4,238.8 413.8,237.5 414.2,236.2 414.6,235.0 415.0,233.8 415.4,232.7 415.8,231.7 416.2,230.8 416.7,230.0 417.1,229.3 417.6,228.8 418.1,228.5 418.7,228.4 419.2,228.5 419.8,228.8 420.5,229.3 421.2,230.0 421.9,230.9 422.6,232.0 423.5,233.1 424.3,234.2 425.2,235.3 426.2,236.3 427.2,237.3 428.3,238.0 429.5,238.6 430.7,239.0 432.0,239.1 433.3,238.9 434.7,238.7 436.0,238.3 437.2,238.1 438.4,237.9 439.5,237.8 440.5,237.9 441.4,238.1 442.2,238.4 443.0,238.8 443.7,239.3 444.3,239.9 444.9,240.6 445.5,241.4 446.0,242.2 446.4,243.1 446.9,244.1 447.3,245.2 447.7,246.2 448.1,247.4 448.5,248.5 448.9,249.7 449.3,250.9 449.8,252.2 450.2,253.4 450.7,254.7 451.2,255.9 451.7,257.2 452.3,258.4 452.9,259.6 453.6,260.8 454.3,262.0 455.0,263.2 455.8,264.3 456.6,265.3 457.4,266.4 458.3,267.4 459.1,268.3 460.0,269.2 461.0,270.1 461.9,270.9 462.9,271.6 463.9,272.2 464.9,272.8 465.9,273.3 466.9,273.8 468.0,274.1 469.1,274.4 470.1,274.6 471.2,274.7 472.3,274.7 473.4,274.5 474.5,274.3 475.6,274.0 476.7,273.7 477.7,273.3 478.8,272.8 479.9,272.3 480.9,271.9 482.0,271.4 483.0,271.0 484.0,270.7 485.0,270.4 485.9,270.2 486.8,270.2 487.7,270.2 488.5,270.4 489.2,270.8 489.9,271.4 490.4,272.1 490.9,273.1 491.2,274.2 491.5,275.4 491.7,276.7 491.9,278.0 492.1,279.4 492.2,280.9 492.3,282.3 492.4,283.7 492.5,285.1 492.6,286.4 492.7,287.7 492.8,288.9 492.9,290.1 493.1,291.3 493.3,292.5 493.5,293.6 493.7,294.8 494.0,295.9 494.3,297.1 494.6,298.3 495.0,299.6 495.4,300.8 495.8,302.2 496.3,303.5 496.8,304.7 497.3,305.9 497.9,306.9 498.4,307.7 498.9,308.4 499.4,308.7 499.8,308.8 500.2,308.5 500.7,308.1 501.0,307.3 501.4,306.4 501.8,305.3 502.2,304.1 502.6,302.8 502.9,301.4 503.3,299.9 503.8,298.4 504.2,297.0 504.7,295.6 505.2,294.2 505.7,292.9 506.3,291.8 506.9,290.7 507.6,289.7 508.2,288.9 508.9,288.1 509.7,287.5 510.4,287.0 511.2,286.7 512.1,286.4 512.9,286.3 513.8,286.4 514.7,286.5 515.6,286.7 516.5,287.1 517.5,287.5 518.4,288.0 519.4,288.6 520.4,289.3 521.3,290.0 522.3,290.9 523.3,291.7 524.3,292.6 525.3,293.6 526.3,294.6 527.2,295.7 528.2,296.7 529.2,297.8 530.1,298.9 531.1,300.0 532.0,301.1 532.9,302.2 533.8,303.3 534.7,304.3 535.6,305.3 536.5,306.2 537.4,307.1 538.3,307.9 539.2,308.6 540.1,309.2 540.9,309.7 541.8,310.1 542.7,310.4 543.6,310.6 544.4,310.6 545.3,310.4 546.2,310.2 547.1,309.7 548.0,309.2 548.9,308.6 549.8,307.8 550.7,307.0 551.6,306.2 552.5,305.3 553.4,304.4 554.3,303.4 555.3,302.5 556.2,301.6 557.2,300.7 558.1,299.8 559.1,298.9 560.1,298.1 561.1,297.2 562.1,296.5 563.1,295.7 564.1,295.0 565.1,294.4 566.1,293.7 567.2,293.2 568.2,292.7 569.2,292.3 570.3,291.9 571.4,291.6 572.4,291.3 573.5,291.2 574.6,291.1 575.7,291.1 576.8,291.2 577.9,291.4 579.0,291.7 580.2,292.1 581.3,292.6 582.4,293.2 583.6,294.0 584.7,294.7 585.9,295.5 587.0,296.3 588.0,296.8 589.0,297.2 589.9,297.2 590.8,296.9 591.5,296.3 592.2,295.4 592.9,294.4 593.6,293.3 594.3,292.2 595.0,291.0 595.8,290.0 596.7,289.2 597.6,288.5 598.6,288.0 599.7,287.5 600.7,287.2 601.8,287.0 602.9,286.9 604.0,286.8 605.1,286.8 606.1,286.8 607.2,286.9 608.3,287.1 609.3,287.3 610.4,287.6 611.4,287.9 612.4,288.2 613.5,288.6 614.5,289.1 615.5,289.5 616.6,290.0 617.6,290.6 618.6,291.1 619.7,291.7 620.7,292.4 621.7,293.0 622.8,293.7 623.8,294.3 624.8,295.0 625.9,295.7 626.9,296.4 627.9,297.1 629.0,297.9 630.0,298.6 631.1,299.3 632.2,300.0 633.2,300.7 634.3,301.4 635.4,302.1 636.5,302.8 637.6,303.5 638.7,304.1 639.8,304.7 640.9,305.3 642.1,305.9 643.2,306.4 644.3,306.9 645.5,307.3 646.6,307.8 647.8,308.1 648.9,308.4 650.1,308.6 651.2,308.8 652.3,308.9 653.4,309.0 654.5,308.9 655.6,308.8 656.6,308.6 657.7,308.3 658.7,307.8 659.7,307.3 660.6,306.7 661.6,306.0 662.5,305.3 663.5,304.5 664.4,303.6 665.3,302.8 666.3,302.0 667.2,301.2 668.2,300.5 669.2,299.9 670.2,299.4 671.3,299.0 672.4,298.8 673.5,298.7 674.7,298.7 675.8,298.6 677.0,298.6 678.1,298.5 679.2,298.4 680.3,298.2 681.3,297.9 682.3,297.6 683.4,297.2 684.3,296.7 685.3,296.2 686.2,295.7 687.1,295.0 688.0,294.3 688.8,293.5 689.6,292.7 690.4,291.8 691.2,290.8 691.9,289.8 692.7,288.8 693.5,287.9 694.3,287.1 695.2,286.4 696.1,285.8 697.1,285.3 698.2,284.9 699.2,284.6 700.4,284.4 701.5,284.3 702.7,284.3 704.0,284.3 705.2,284.4 706.5,284.5 707.7,284.7 709.0,284.9 710.3,285.2 711.6,285.4 712.8,285.7 714.1,286.0 715.3,286.2 716.5,286.5 717.7,286.7 718.8,287.0 720.0,287.2 721.1,287.5 722.2,287.7 723.3,288.0 724.5,288.2 725.5,288.5 726.6,288.8 727.7,289.1 728.8,289.4 729.9,289.7 731.0,290.1 732.0,290.4 733.1,290.8 734.2,291.3 735.3,291.7 736.4,292.3 737.5,292.8 738.7,293.4 739.8,294.0 740.9,294.5 742.1,295.1 743.2,295.7 744.3,296.2 745.5,296.7 746.6,297.1 747.6,297.5 748.7,297.8 749.8,297.9 750.8,298.0 751.8,298.0 752.7,297.8 753.6,297.5 754.5,297.0 755.4,296.3 756.1,295.5 756.9,294.5 757.6,293.3 758.3,292.0 758.9,290.6 759.5,289.3 760.2,287.9 760.8,286.6 761.4,285.5 762.0,284.5 762.7,283.7 763.4,283.1 764.1,282.9 764.9,283.0 765.7,283.4 766.5,284.0 767.4,284.9 768.2,285.9 769.0,287.1 769.7,288.3 770.5,289.6 771.2,290.9 771.9,292.1 772.5,293.2 773.2,294.3 773.9,295.2 774.5,295.9 775.2,296.3 775.9,296.5 776.5,296.4 777.2,296.1 777.9,295.5 778.5,294.8 779.1,293.9 779.7,293.0 780.3,291.9 780.8,290.8 781.3,289.7 781.8,288.5 782.3,287.3 782.8,286.0 783.3,284.7 783.7,283.4 784.2,282.1 784.7,280.9 785.1,279.6 785.6,278.3 786.2,277.1 786.7,275.9 787.3,274.8 787.9,273.7 788.5,272.6 789.2,271.7 789.9,270.8 790.7,270.0 791.5,269.3 792.4,268.7 793.3,268.2 794.3,267.8 795.3,267.5 796.4,267.3 797.6,267.2 798.8,267.1 800.0,267.0 801.2,267.0 802.5,267.0 803.7,267.0 805.0,266.9 806.2,266.8 807.5,266.6 808.7,266.4 809.8,266.0 811.0,265.6 812.1,265.1 813.2,264.6 814.3,264.1 815.4,263.6 816.4,263.1 817.5,262.7 818.5,262.3 819.5,262.1 820.5,261.9 821.6,261.9 822.6,262.1 823.6,262.5 824.7,262.9 825.7,263.5 826.7,264.1 827.7,264.7 828.7,265.4 829.6,266.1 830.6,266.8 831.6,267.5 832.5,268.3 833.5,269.0 834.4,269.7 835.4,270.5 836.3,271.2 837.3,271.9 838.3,272.7 839.2,273.3 840.2,274.0 841.2,274.7 842.2,275.3 843.3,275.9 844.3,276.4 845.4,276.9 846.5,277.4 847.6,277.8 848.7,278.2 849.9,278.5 851.0,278.7 852.3,278.9 853.5,279.0 854.7,279.2 856.0,279.3 857.2,279.6 858.3,279.9 859.4,280.4 860.4,281.1 861.4,281.8 862.4,282.5 863.3,283.2 864.3,283.8 865.3,284.2 866.2,284.4 867.3,284.3 868.3,284.1 869.4,283.7 870.5,283.1 871.6,282.5 872.7,281.9 873.9,281.2 875.0,280.7 876.0,280.2 877.1,279.8 878.2,279.6 879.2,279.5 880.2,279.5 881.1,279.7 882.0,280.0 882.9,280.4 883.8,281.0 884.6,281.8 885.3,282.8 886.0,283.9 886.7,285.2 887.3,286.5 887.9,288.0 888.5,289.5 889.1,291.0 889.8,292.5 890.4,293.9 891.0,295.2 891.7,296.3 892.4,297.4 893.2,298.3 893.9,299.2 894.7,299.9 895.6,300.6 896.4,301.1 897.3,301.6 898.2,301.9 899.1,302.2 900.1,302.5 901.0,302.6 902.0,302.7 903.1,302.8 904.1,302.7 905.2,302.7 906.2,302.6 907.3,302.4 908.4,302.3 909.6,302.1 910.7,301.8 911.9,301.6 913.1,301.4 914.3,301.1 915.5,300.9 916.7,300.6 917.9,300.4 919.2,300.1 920.5,299.9 921.7,299.7 923.0,299.6 924.3,299.4 925.6,299.3 926.9,299.3 928.2,299.3 929.5,299.3 930.9,299.4 932.2,299.5 933.5,299.6 934.8,299.7 936.0,299.8 937.3,299.8 938.5,299.9 939.7,299.9 940.9,299.9 942.1,299.8 943.2,299.7 944.2,299.5 945.2,299.2 946.2,298.9 947.1,298.5 948.0,297.9 948.8,297.3 949.6,296.6 950.3,295.8 951.0,294.9 951.6,294.0 952.3,293.1 952.9,292.1 953.6,291.1 954.3,290.0 954.9,289.0 955.6,288.0 956.4,287.1 957.2,286.2 958.1,285.3 959.0,284.5 960.0,283.8 961.0,283.1 962.2,282.6 963.4,282.2 964.6,281.9 965.8,281.6 967.1,281.6 968.3,281.6 969.4,281.7 970.5,282.0 971.5,282.5 972.3,283.1 973.1,283.8 973.7,284.7 974.2,285.6 974.7,286.7 975.1,287.8 975.4,289.0 975.7,290.2 976.0,291.4 976.2,292.6 976.5,293.8 976.8,295.0 977.0,296.2 977.3,297.4 977.5,298.6 977.8,299.8 978.0,301.0 978.3,302.2 978.5,303.4 978.7,304.6 978.9,305.8 979.1,306.9 979.4,308.1 979.6,309.3 979.8,310.5 980.0,311.6 980.2,312.8 980.4,314.0 980.6,315.2 980.7,316.3 980.9,317.5 981.1,318.7 981.3,319.9 981.5,321.0 981.7,322.2 981.8,323.4 982.0,324.5 982.2,325.7 982.4,326.9 982.6,328.1 982.7,329.2 982.9,330.4 983.1,331.6 983.3,332.7 983.5,333.9 983.6,335.1 983.8,336.3 984.0,337.5 984.2,338.6 984.4,339.8 984.6,341.0 984.8,342.2 985.0,343.4 985.2,344.6 985.4,345.8 985.6,346.9 985.8,348.1 986.0,349.3 986.2,350.5 986.5,351.7 986.7,352.9 986.9,354.1 987.2,355.4 987.4,356.6 987.6,357.8 987.9,359.0 988.2,360.2 988.4,361.4 988.7,362.7 989.0,363.9 989.3,365.0 989.7,366.2 990.0,367.4 990.4,368.5 990.8,369.6 991.3,370.7 991.8,371.8 992.3,372.8 992.8,373.8 993.4,374.8 994.1,375.7 994.8,376.6 995.5,377.5 996.3,378.3 997.1,379.0 998.0,379.7 999.0,380.3 1000.0,380.9 1001.1,381.4 1002.2,381.9 1003.4,382.4 1004.6,382.8 1005.8,383.3 1006.9,383.8 1008.1,384.3 1009.2,385.0 1010.2,385.8 1011.2,386.6 1012.2,387.5 1013.1,388.4 1014.1,389.2 1015.0,390.0 1015.9,390.7 1016.9,391.3 1017.8,391.7 1018.8,392.0 1019.9,392.0 1021.0,391.8 1022.1,391.5 1023.2,391.0 1024.2,390.3 1025.3,389.6 1026.2,388.8 1027.1,387.9 1027.9,387.0 1028.7,386.1 1029.3,385.1 1030.0,384.1 1030.5,383.1 1031.1,382.1 1031.6,381.1 1032.1,380.0 1032.6,379.0 1033.2,377.9 1033.7,376.9 1034.3,375.8 1034.9,374.7 1035.5,373.7 1036.2,372.7 1037.0,371.7 1037.7,370.7 1038.5,369.7 1039.4,368.7 1040.2,367.8 1041.1,366.9 1042.0,366.0 1043.0,365.2 1043.9,364.3 1044.9,363.6 1045.9,362.8 1046.9,362.1 1048.0,361.5 1049.0,360.8 1050.1,360.3 1051.2,359.8 1052.3,359.3 1053.4,358.9 1054.5,358.5 1055.6,358.2 1056.7,358.0 1057.8,357.9 1059.0,357.8 1060.1,357.7 1061.2,357.7 1062.3,357.8 1063.5,357.9 1064.6,358.1 1065.7,358.3 1066.8,358.6 1068.0,358.9 1069.1,359.2 1070.2,359.5 1071.3,359.9 1072.5,360.3 1073.6,360.7 1074.7,361.2 1075.8,361.6 1076.9,362.1 1078.1,362.6 1079.2,363.0 1080.3,363.5 1081.4,364.0 1082.4,364.6 1083.5,365.1 1084.6,365.6 1085.6,366.2 1086.6,366.8 1087.6,367.4 1088.6,368.1 1089.6,368.8 1090.5,369.5 1091.4,370.2 1092.3,371.0 1093.1,371.8 1094.0,372.6 1094.8,373.4 1095.6,374.2 1096.4,374.8 1097.3,375.4 1098.1,375.8 1099.0,376.0 1099.9,376.1 1100.9,376.0 1101.8,375.8 1102.8,375.4 1103.8,375.0 1104.9,374.4 1105.9,373.8 1107.0,373.1 1108.1,372.3 1109.2,371.6 1110.3,370.8 1111.4,370.0 1112.5,369.2 1113.6,368.5 1114.7,367.8 1115.8,367.2 1116.8,366.7 1117.9,366.3 1119.0,366.0 1120.0,365.8 1121.0,365.8 1122.0,365.9 1123.0,366.2 1123.9,366.5 1124.9,367.0 1125.8,367.6 1126.6,368.3 1127.5,369.0 1128.4,369.9 1129.2,370.8 1130.0,371.8 1130.7,372.9 1131.5,374.0 1132.2,375.1 1132.9,376.3 1133.6,377.5 1134.2,378.8 1134.9,380.0 1135.5,381.3 1136.0,382.5 1136.6,383.8 1137.1,385.0 1137.6,386.2 1138.1,387.4 1138.6,388.6 1139.1,389.7 1139.6,390.8 1140.1,391.9 1140.6,392.9 1141.1,393.8 1141.7,394.7 1142.3,395.6 1143.0,396.4 1143.7,397.1 1144.4,397.7 1145.2,398.3 1146.1,398.8 1147.0,399.2 1148.0,399.5 1149.1,399.7 1150.2,399.8 1151.3,399.7 1152.5,399.6 1153.7,399.4 1154.9,399.3 1156.0,399.3 1157.2,399.4 1158.3,399.8 1159.3,400.3 1160.4,400.9 1161.4,401.6 1162.4,402.4 1163.4,403.2 1164.4,404.0 1165.4,404.8 1166.4,405.5 1167.4,406.2 1168.5,406.7 1169.5,407.1 1170.6,407.3 1171.7,407.4 1172.8,407.5 1174.0,407.4 1175.1,407.2 1176.3,407.0 1177.5,406.7 1178.6,406.3 1179.8,406.0 1181.0,405.6 1182.2,405.1 1183.4,404.7 1184.6,404.3 1185.8,404.0 1187.0,403.6 1188.2,403.3 1189.4,403.1 1190.6,403.0 1191.8,402.9 1192.9,402.9 1194.0,403.0 1195.2,403.2 1196.3,403.5 1197.4,403.7 1198.6,404.0 1199.7,404.3 1200.9,404.6 1202.1,404.8 1203.3,404.9 1204.5,405.0 1205.7,405.1 1206.9,405.0 1208.1,404.9 1209.3,404.6 1210.5,404.3 1211.7,403.9 1212.8,403.3 1213.8,402.6 1214.8,401.9 1215.7,401.0 1216.6,400.0 1217.4,399.0 1218.3,398.0 1219.1,397.0 1219.9,396.0 1220.7,395.1 1221.6,394.3 1222.5,393.6 1223.4,393.0 1224.4,392.6 1225.4,392.4 1226.5,392.4 1227.7,392.6 1228.9,392.9 1230.2,393.3 1231.4,393.7 1232.6,394.2 1233.8,394.6 1235.0,395.0 1236.1,395.3 1237.1,395.4 1238.0,395.4 1238.8,395.1 1239.6,394.7 1240.2,394.1 1240.8,393.4 1241.2,392.5 1241.7,391.5 1242.1,390.4 1242.4,389.2 1242.7,387.9 1243.0,386.5 1243.3,385.1 1243.5,383.7 1243.8,382.2 1244.1,380.7 1244.4,379.3 1244.7,377.8 1245.1,376.4 1245.5,375.1 1245.9,373.8 1246.5,372.6 1247.1,371.5 1247.8,370.5 1248.6,369.6 1249.5,368.9 1250.4,368.4 1251.5,367.9 1252.7,367.6 1253.9,367.3 1255.1,367.2 1256.4,367.1 1257.6,367.1 1258.9,367.1 1260.2,367.1 1261.4,367.2 1262.6,367.2 1263.8,367.4 1265.0,367.5 1266.1,367.7 1267.2,368.0 1268.3,368.4 1269.3,368.8 1270.3,369.3 1271.3,370.0 1272.2,370.7 1273.1,371.4 1274.0,372.3 1274.9,373.2 1275.7,374.2 1276.5,375.2 1277.3,376.3 1278.1,377.4 1278.8,378.5 1279.5,379.7 1280.3,380.8 1281.0,382.0 1281.7,383.2 1282.4,384.5 1283.1,385.7 1283.8,386.8 1284.4,388.0 1285.1,389.2 1285.8,390.3 1286.5,391.4 1287.2,392.4 1287.9,393.4 1288.6,394.4 1289.3,395.2 1290.1,396.1 1290.8,396.8 1291.6,397.5 1292.4,398.1 1293.2,398.5 1294.0,398.9 1294.9,399.2 1295.7,399.4 1296.6,399.5 1297.6,399.4 1298.5,399.2 1299.5,398.9 1300.5,398.4 1301.6,397.8 1302.7,397.1 1303.8,396.1 1305.0,395.1 1306.2,393.8 1307.5,392.4" fill="none" stroke="#a25050" stroke-width="1.0" stroke-dasharray="3,2.2"/>
<path d="M36.7,184.6 37.3,185.7 37.8,186.7 38.4,187.8 38.9,188.9 39.5,190.0 40.0,191.1 40.5,192.2 41.0,193.3 41.5,194.4 42.0,195.4 42.5,196.5 43.0,197.6 43.5,198.7 43.9,199.8 44.4,200.9 44.8,202.0 45.2,203.1 45.7,204.2 46.1,205.3 46.5,206.4 46.9,207.6 47.3,208.7 47.7,209.8 48.0,210.9 48.4,212.0 48.8,213.2 49.1,214.3 49.5,215.4 49.8,216.5 50.2,217.7 50.5,218.8 50.8,220.0 51.1,221.1 51.4,222.3 51.7,223.4 52.0,224.6 52.3,225.7 52.6,226.9 52.9,228.1 53.1,229.2 53.4,230.4 53.7,231.6 53.9,232.8 54.2,234.0 54.4,235.2 54.7,236.4 54.9,237.6 55.1,238.8 55.3,240.0 55.6,241.2 55.8,242.5 56.0,243.7 56.2,244.9 56.4,246.2 56.7,247.4 56.9,248.6 57.1,249.8 57.4,251.0 57.6,252.3 57.9,253.5 58.2,254.6 58.5,255.8 58.8,257.0 59.1,258.1 59.5,259.3 59.9,260.4 60.3,261.5 60.8,262.5 61.3,263.6 61.8,264.6 62.3,265.6 62.9,266.6 63.5,267.5 64.2,268.4 64.9,269.3 65.7,270.2 66.4,271.0 67.3,271.8 68.1,272.6 69.0,273.3 70.0,274.0 70.9,274.8 71.9,275.5 72.8,276.2 73.8,276.9 74.8,277.6 75.8,278.3 76.8,279.0 77.7,279.8 78.7,280.6 79.6,281.3 80.5,282.2 81.4,283.0 82.3,283.8 83.2,284.7 84.1,285.5 85.0,286.4 85.9,287.2 86.8,288.1 87.7,288.9 88.6,289.7 89.5,290.5 90.5,291.3 91.4,292.0 92.4,292.8 93.4,293.4 94.5,294.1 95.5,294.6 96.6,295.1 97.6,295.3 98.5,295.3 99.4,295.1 100.2,294.8 101.0,294.2 101.8,293.6 102.5,292.7 103.1,291.8 103.8,290.8 104.4,289.7 104.9,288.6 105.4,287.5 106.0,286.3 106.4,285.2 106.9,284.0 107.3,282.8 107.7,281.7 108.1,280.5 108.5,279.3 108.9,278.1 109.2,276.9 109.5,275.7 109.8,274.5 110.1,273.3 110.3,272.2 110.6,271.0 110.8,269.7 111.0,268.5 111.2,267.3 111.4,266.1 111.6,264.9 111.8,263.7 111.9,262.5 112.1,261.3 112.2,260.1 112.3,258.9 112.5,257.7 112.6,256.4 112.7,255.2 112.8,254.0 112.9,252.8 113.0,251.6 113.0,250.4 113.1,249.2 113.2,248.0 113.3,246.8 113.4,245.6 113.4,244.4 113.5,243.2 113.6,242.0 113.7,240.8 113.8,239.6 113.9,238.4 113.9,237.2 114.0,236.0 114.1,234.8 114.2,233.6 114.4,232.5 114.5,231.3 114.6,230.1 114.8,229.0 114.9,227.8 115.1,226.7 115.2,225.5 115.4,224.4 115.6,223.2 115.8,222.1 116.0,220.9 116.3,219.8 116.5,218.7 116.7,217.5 117.0,216.4 117.2,215.3 117.5,214.2 117.8,213.0 118.0,211.9 118.3,210.8 118.6,209.6 118.9,208.5 119.1,207.3 119.4,206.2 119.7,205.0 120.0,203.8 120.2,202.6 120.5,201.4 120.8,200.2 121.0,199.0 121.3,197.8 121.5,196.6 121.8,195.3 122.0,194.1 122.2,192.8 122.4,191.5 122.7,190.2 122.8,188.9 123.0,187.6 123.2,186.2 123.4,184.9 123.7,183.6 123.9,182.4 124.2,181.2 124.5,180.0 124.9,178.9 125.3,177.8 125.8,176.8 126.4,176.0 127.0,175.2 127.7,174.5 128.6,173.9 129.5,173.4 130.5,173.1 131.5,173.0 132.6,173.1 133.6,173.3 134.6,173.8 135.6,174.3 136.6,175.1 137.5,175.9 138.4,176.8 139.2,177.8 139.9,178.8 140.6,179.8 141.2,180.9 141.7,182.0 142.1,183.1 142.5,184.2 142.9,185.3 143.2,186.5 143.4,187.7 143.7,188.9 143.8,190.1 144.0,191.3 144.1,192.5 144.3,193.7 144.4,195.0 144.4,196.2 144.5,197.4 144.6,198.7 144.7,199.9 144.8,201.1 144.9,202.3 145.0,203.5 145.2,204.7 145.3,205.9 145.4,207.0 145.6,208.2 145.7,209.4 145.9,210.6 146.1,211.7 146.2,212.9 146.4,214.1 146.6,215.2 146.7,216.4 146.9,217.6 147.1,218.7 147.3,219.9 147.4,221.1 147.6,222.3 147.7,223.4 147.9,224.6 148.0,225.8 148.1,227.0 148.3,228.2 148.4,229.5 148.5,230.7 148.6,231.9 148.8,233.1 148.9,234.3 149.0,235.6 149.1,236.8 149.3,238.0 149.4,239.2 149.6,240.4 149.7,241.6 149.9,242.8 150.1,244.0 150.3,245.2 150.5,246.4 150.7,247.6 150.9,248.8 151.2,249.9 151.5,251.1 151.8,252.2 152.1,253.3 152.5,254.4 152.8,255.5 153.2,256.6 153.7,257.7 154.1,258.7 154.6,259.8 155.1,260.8 155.7,261.8 156.3,262.8 156.9,263.7 157.5,264.6 158.2,265.6 159.0,266.4 159.7,267.3 160.6,268.1 161.4,269.0 162.3,269.7 163.3,270.5 164.2,271.2 165.3,271.9 166.3,272.6 167.4,273.3 168.5,273.9 169.6,274.5 170.7,275.1 171.9,275.6 173.0,276.1 174.2,276.6 175.4,277.1 176.6,277.5 177.8,277.9 179.0,278.3 180.2,278.6 181.4,278.9 182.6,279.2 183.8,279.5 185.0,279.7 186.2,279.9 187.3,280.0 188.5,280.0 189.5,280.0 190.5,279.8 191.5,279.6 192.4,279.2 193.3,278.8 194.1,278.2 194.8,277.5 195.5,276.8 196.1,275.9 196.7,275.0 197.2,274.0 197.8,272.9 198.2,271.8 198.6,270.6 199.0,269.4 199.4,268.2 199.7,266.9 200.0,265.6 200.3,264.3 200.6,262.9 200.8,261.6 201.0,260.3 201.2,259.0 201.4,257.7 201.6,256.4 201.8,255.1 201.9,253.9 202.1,252.6 202.2,251.4 202.4,250.2 202.5,249.0 202.6,247.8 202.7,246.6 202.9,245.4 203.0,244.2 203.1,243.1 203.2,241.9 203.3,240.7 203.3,239.6 203.4,238.4 203.5,237.3 203.6,236.1 203.7,235.0 203.8,233.9 203.9,232.7 204.0,231.6 204.1,230.4 204.2,229.3 204.3,228.1 204.4,226.9 204.5,225.8 204.6,224.6 204.7,223.4 204.8,222.3 205.0,221.1 205.1,219.9 205.2,218.8 205.3,217.6 205.5,216.4 205.6,215.2 205.7,214.0 205.9,212.8 206.0,211.6 206.2,210.5 206.3,209.3 206.5,208.1 206.6,206.9 206.7,205.7 206.9,204.5 207.0,203.3 207.2,202.1 207.3,200.9 207.5,199.7 207.6,198.5 207.8,197.2 208.0,196.0 208.1,194.8 208.3,193.6 208.4,192.4 208.6,191.2 208.7,190.0 208.9,188.8 209.0,187.6 209.2,186.3 209.3,185.1 209.5,183.9 209.6,182.7 209.8,181.5 209.9,180.3 210.1,179.1 210.2,177.8 210.4,176.6 210.5,175.4 210.7,174.2 210.8,173.0 211.0,171.8 211.2,170.6 211.3,169.4 211.5,168.2 211.7,167.0 212.0,165.8 212.2,164.6 212.5,163.5 212.8,162.3 213.1,161.2 213.5,160.0 213.8,158.9 214.3,157.8 214.7,156.7 215.2,155.6 215.7,154.5 216.3,153.5 216.9,152.4 217.5,151.4 218.2,150.4 218.9,149.5 219.7,148.7 220.6,148.0 221.4,147.5 222.3,147.2 223.3,147.2 224.3,147.4 225.3,147.8 226.2,148.3 227.1,148.9 227.9,149.7 228.6,150.5 229.3,151.4 229.9,152.4 230.5,153.5 231.1,154.6 231.5,155.8 232.0,157.0 232.4,158.2 232.8,159.5 233.2,160.7 233.6,162.0 233.9,163.2 234.2,164.5 234.6,165.7 234.9,166.9 235.2,168.1 235.4,169.4 235.7,170.6 235.9,171.8 236.2,173.0 236.4,174.2 236.6,175.4 236.8,176.6 237.0,177.8 237.2,179.0 237.4,180.2 237.5,181.3 237.7,182.5 237.8,183.7 238.0,184.9 238.1,186.1 238.3,187.2 238.4,188.4 238.5,189.6 238.6,190.8 238.7,191.9 238.8,193.1 238.9,194.3 239.0,195.4 239.1,196.6 239.2,197.8 239.3,198.9 239.4,200.1 239.5,201.3 239.6,202.4 239.7,203.6 239.8,204.8 239.9,206.0 240.0,207.1 240.1,208.3 240.3,209.5 240.4,210.7 240.5,211.8 240.6,213.0 240.7,214.2 240.9,215.4 241.0,216.6 241.2,217.8 241.3,218.9 241.5,220.1 241.7,221.3 241.8,222.5 242.0,223.8 242.2,225.0 242.4,226.2 242.7,227.4 242.9,228.6 243.1,229.8 243.4,231.0 243.7,232.3 244.0,233.5 244.3,234.7 244.6,235.9 245.0,237.0 245.3,238.2 245.7,239.3 246.2,240.5 246.6,241.6 247.1,242.7 247.6,243.7 248.1,244.8 248.7,245.8 249.3,246.7 249.9,247.7 250.6,248.6 251.3,249.5 252.0,250.3 252.8,251.1 253.6,251.8 254.5,252.6 255.3,253.2 256.3,253.9 257.2,254.6 258.2,255.3 259.1,255.9 260.2,256.6 261.2,257.2 262.2,257.9 263.3,258.6 264.4,259.4 265.5,260.1 266.6,260.9 267.7,261.7 268.8,262.5 269.9,263.3 271.0,264.0 272.1,264.8 273.2,265.4 274.3,266.1 275.4,266.6 276.5,267.1 277.5,267.4 278.6,267.7 279.6,267.8 280.6,267.8 281.5,267.6 282.5,267.3 283.4,266.9 284.2,266.3 285.0,265.5 285.8,264.7 286.6,263.8 287.3,262.8 288.0,261.7 288.6,260.6 289.2,259.5 289.8,258.4 290.3,257.3 290.7,256.1 291.2,255.0 291.5,253.8 291.9,252.7 292.2,251.5 292.5,250.4 292.8,249.2 293.0,248.0 293.2,246.8 293.4,245.6 293.6,244.5 293.7,243.3 293.9,242.1 294.0,240.9 294.1,239.7 294.2,238.5 294.3,237.3 294.4,236.1 294.5,234.9 294.5,233.7 294.6,232.5 294.7,231.3 294.8,230.1 294.9,228.9 295.0,227.7 295.2,226.5 295.3,225.3 295.4,224.1 295.6,222.9 295.7,221.7 295.9,220.5 296.1,219.3 296.2,218.1 296.4,216.9 296.6,215.7 296.8,214.5 297.0,213.3 297.2,212.1 297.4,211.0 297.6,209.8 297.8,208.6 298.0,207.4 298.2,206.2 298.4,205.0 298.6,203.8 298.8,202.7 299.0,201.5 299.2,200.3 299.5,199.1 299.7,198.0 299.9,196.8 300.1,195.6 300.3,194.5 300.5,193.3 300.7,192.1 301.0,190.9 301.2,189.8 301.4,188.6 301.6,187.4 301.8,186.3 302.0,185.1 302.2,183.9 302.4,182.8 302.6,181.6 302.8,180.4 302.9,179.2 303.1,178.1 303.3,176.9 303.5,175.7 303.6,174.5 303.8,173.3 304.0,172.1 304.1,171.0 304.3,169.8 304.4,168.6 304.6,167.4 304.7,166.2 304.9,164.9 305.0,163.7 305.1,162.5 305.2,161.3 305.3,160.1 305.5,158.8 305.6,157.6 305.7,156.4 305.8,155.1 306.0,153.9 306.1,152.7 306.3,151.5 306.5,150.3 306.7,149.1 306.9,147.9 307.2,146.7 307.4,145.5 307.7,144.3 308.1,143.2 308.4,142.0 308.9,140.9 309.3,139.8 309.8,138.7 310.3,137.6 310.9,136.6 311.5,135.6 312.2,134.7 312.9,133.9 313.7,133.2 314.5,132.7 315.4,132.4 316.4,132.3 317.4,132.4 318.4,132.8 319.5,133.4 320.5,134.1 321.4,134.8 322.2,135.7 322.9,136.6 323.6,137.6 324.2,138.7 324.7,139.8 325.1,140.9 325.5,142.1 325.8,143.3 326.2,144.5 326.4,145.8 326.7,147.0 327.0,148.2 327.2,149.5 327.5,150.7 327.7,151.9 327.9,153.1 328.1,154.3 328.3,155.6 328.5,156.8 328.7,158.0 328.9,159.2 329.1,160.4 329.2,161.6 329.4,162.7 329.6,163.9 329.7,165.1 329.9,166.3 330.0,167.5 330.1,168.7 330.3,169.8 330.4,171.0 330.5,172.2 330.6,173.4 330.8,174.5 330.9,175.7 331.0,176.9 331.1,178.0 331.2,179.2 331.3,180.4 331.4,181.5 331.5,182.7 331.6,183.9 331.7,185.1 331.8,186.2 331.9,187.4 332.0,188.6 332.2,189.7 332.3,190.9 332.4,192.1 332.5,193.3 332.6,194.5 332.7,195.6 332.8,196.8 332.9,198.0 333.0,199.2 333.2,200.4 333.3,201.6 333.4,202.8 333.6,204.0 333.7,205.2 333.8,206.4 334.0,207.6 334.1,208.9 334.3,210.1 334.5,211.3 334.6,212.5 334.8,213.8 335.0,215.0 335.2,216.3 335.4,217.5 335.6,218.7 335.9,220.0 336.1,221.2 336.4,222.4 336.7,223.6 337.0,224.8 337.4,226.0 337.8,227.1 338.2,228.2 338.7,229.3 339.1,230.4 339.7,231.4 340.2,232.4 340.8,233.4 341.5,234.3 342.2,235.2 343.0,236.0 343.8,236.9 344.6,237.6 345.5,238.3 346.5,239.0 347.5,239.6 348.6,240.1 349.6,240.7 350.7,241.2 351.8,241.8 353.0,242.3 354.0,242.8 355.1,243.4 356.2,244.0 357.2,244.6 358.1,245.3 359.0,246.0 359.9,246.7 360.8,247.5 361.6,248.3 362.4,249.2 363.2,250.0 364.1,250.9 365.0,251.7 365.9,252.5 366.9,253.3 368.0,254.0 369.1,254.7 370.3,255.4 371.5,255.9 372.7,256.4 373.9,256.6 375.0,256.7 376.0,256.6 377.0,256.3 377.8,255.8 378.6,255.2 379.3,254.5 380.0,253.6 380.6,252.7 381.2,251.6 381.7,250.5 382.2,249.4 382.7,248.2 383.1,247.1 383.5,245.9 383.9,244.7 384.3,243.6 384.6,242.4 384.9,241.2 385.2,240.0 385.5,238.8 385.8,237.7 386.0,236.5 386.3,235.3 386.5,234.1 386.7,232.9 386.9,231.7 387.0,230.5 387.2,229.3 387.3,228.1 387.5,226.9 387.6,225.7 387.7,224.5 387.8,223.3 387.9,222.1 388.0,220.9 388.1,219.7 388.2,218.5 388.3,217.3 388.4,216.1 388.4,214.9 388.5,213.7 388.6,212.5 388.6,211.3 388.7,210.1 388.8,208.9 388.8,207.7 388.9,206.6 389.0,205.4 389.0,204.2 389.1,203.0 389.2,201.8 389.3,200.6 389.4,199.4 389.5,198.2 389.6,197.0 389.7,195.8 389.9,194.6 390.0,193.4 390.2,192.3 390.3,191.1 390.5,189.9 390.7,188.7 390.9,187.5 391.1,186.3 391.3,185.2 391.5,184.0 391.7,182.8 391.9,181.6 392.1,180.5 392.3,179.3 392.5,178.1 392.7,176.9 393.0,175.7 393.2,174.6 393.4,173.4 393.6,172.2 393.8,171.0 394.0,169.8 394.1,168.6 394.3,167.4 394.5,166.3 394.6,165.1 394.8,163.9 394.9,162.7 395.0,161.5 395.2,160.3 395.3,159.1 395.3,157.8 395.4,156.6 395.5,155.4 395.5,154.2 395.6,153.0 395.6,151.8 395.7,150.6 395.7,149.3 395.8,148.1 395.9,146.9 395.9,145.7 396.0,144.5 396.1,143.3 396.2,142.1 396.3,140.9 396.5,139.7 396.6,138.5 396.8,137.3 397.0,136.1 397.3,135.0 397.5,133.8 397.8,132.6 398.2,131.5 398.5,130.3 398.9,129.2 399.3,128.0 399.8,126.9 400.3,125.8 400.9,124.7 401.5,123.6 402.2,122.5 402.9,121.4 403.6,120.4 404.4,119.4 405.2,118.5 406.1,117.8 406.9,117.3 407.8,117.1 408.7,117.0 409.5,117.2 410.4,117.6 411.2,118.1 412.0,118.8 412.8,119.7 413.6,120.6 414.3,121.6 415.0,122.7 415.7,123.8 416.4,125.0 417.0,126.1 417.6,127.3 418.1,128.4 418.6,129.6 419.1,130.7 419.6,131.9 420.0,133.1 420.3,134.2 420.7,135.4 421.0,136.6 421.3,137.7 421.6,138.9 421.8,140.1 422.1,141.3 422.3,142.4 422.5,143.6 422.6,144.8 422.8,146.0 422.9,147.2 423.0,148.3 423.1,149.5 423.2,150.7 423.3,151.9 423.4,153.1 423.4,154.3 423.5,155.5 423.5,156.7 423.6,157.9 423.6,159.1 423.6,160.3 423.7,161.5 423.7,162.6 423.7,163.8 423.8,165.0 423.8,166.2 423.8,167.4 423.9,168.6 423.9,169.8 424.0,171.0 424.1,172.2 424.1,173.4 424.2,174.6 424.3,175.8 424.4,177.0 424.5,178.3 424.6,179.5 424.7,180.7 424.9,181.9 425.0,183.1 425.1,184.3 425.3,185.5 425.4,186.7 425.6,187.9 425.7,189.0 425.9,190.2 426.1,191.4 426.2,192.6 426.4,193.8 426.6,195.0 426.8,196.2 426.9,197.4 427.1,198.6 427.3,199.8 427.5,201.0 427.7,202.2 427.9,203.3 428.1,204.5 428.3,205.7 428.5,206.9 428.8,208.0 429.0,209.2 429.3,210.4 429.5,211.5 429.8,212.6 430.1,213.8 430.5,214.9 430.8,216.0 431.2,217.1 431.6,218.2 432.1,219.2 432.5,220.3 433.0,221.3 433.6,222.4 434.1,223.4 434.7,224.4 435.4,225.3 436.1,226.3 436.8,227.2 437.6,228.1 438.4,229.0 439.2,229.9 440.1,230.8 440.9,231.7 441.8,232.5 442.7,233.4 443.6,234.2 444.4,235.1 445.2,236.0 446.0,236.9 446.8,237.8 447.5,238.7 448.2,239.6 448.9,240.5 449.6,241.4 450.3,242.4 450.9,243.3 451.6,244.3 452.2,245.2 452.9,246.2 453.5,247.1 454.2,248.1 454.8,249.1 455.5,250.0 456.1,251.0 456.8,252.0 457.5,253.0 458.2,254.0 459.0,254.9 459.7,255.9 460.5,256.9 461.3,257.9 462.2,258.9 463.1,259.9 464.0,260.8 464.9,261.8 465.9,262.8 466.9,263.7 467.9,264.6 468.9,265.3 470.0,266.0 471.0,266.6 471.9,267.1 472.9,267.4 473.8,267.6 474.7,267.5 475.5,267.3 476.3,266.9 476.9,266.3 477.6,265.5 478.2,264.6 478.7,263.6 479.1,262.5 479.6,261.4 479.9,260.3 480.3,259.2 480.6,258.0 480.8,256.8 481.1,255.6 481.3,254.4 481.4,253.2 481.6,251.9 481.7,250.7 481.9,249.4 482.0,248.2 482.1,246.9 482.3,245.7 482.4,244.4 482.6,243.2 482.7,241.9 482.9,240.7 483.1,239.5 483.3,238.2 483.5,237.0 483.7,235.8 483.9,234.6 484.1,233.4 484.4,232.2 484.6,231.0 484.8,229.8 485.0,228.7 485.3,227.5 485.5,226.3 485.7,225.2 485.9,224.0 486.1,222.9 486.3,221.8 486.5,220.6 486.7,219.5 486.9,218.4 487.1,217.3 487.3,216.2 487.5,215.0 487.7,213.9 487.9,212.8 488.1,211.7 488.3,210.5 488.6,209.4 488.8,208.2 489.0,207.1 489.2,205.9 489.5,204.7 489.7,203.5 490.0,202.3 490.3,201.1 490.6,199.9 490.9,198.6 491.2,197.3 491.5,196.1 491.9,194.7 492.2,193.4 492.6,192.1 493.0,190.7 493.4,189.4 493.9,188.1 494.3,186.9 494.8,185.8 495.3,184.7 495.9,183.8 496.5,183.1 497.1,182.6 497.7,182.2 498.4,182.0 499.1,182.1 499.8,182.4 500.5,183.0 501.2,183.7 501.9,184.7 502.5,185.8 503.1,186.9 503.6,188.2 504.1,189.5 504.6,190.8 505.0,192.0 505.4,193.3 505.7,194.5 506.0,195.7 506.3,196.8 506.5,198.0 506.8,199.1 507.0,200.2 507.3,201.4 507.5,202.5 507.8,203.6 508.0,204.8 508.3,205.9 508.6,207.0 508.9,208.2 509.2,209.3 509.5,210.5 509.8,211.7 510.2,212.8 510.5,214.0 510.8,215.1 511.2,216.3 511.5,217.5 511.9,218.6 512.3,219.8 512.6,221.0 513.0,222.1 513.4,223.3 513.7,224.5 514.1,225.7 514.5,226.8 514.9,228.0 515.2,229.2 515.6,230.3 516.0,231.5 516.3,232.7 516.7,233.8 517.1,235.0 517.4,236.2 517.8,237.3 518.1,238.5 518.5,239.6 518.8,240.8 519.1,241.9 519.4,243.1 519.7,244.2 520.0,245.4 520.3,246.5 520.6,247.6 520.9,248.8 521.1,249.9 521.4,251.0 521.6,252.1 521.9,253.2 522.1,254.3 522.4,255.4 522.6,256.6 522.9,257.7 523.1,258.8 523.4,259.9 523.6,261.0 523.9,262.1 524.2,263.2 524.6,264.4 524.9,265.5 525.3,266.6 525.7,267.8 526.1,269.0 526.5,270.1 527.0,271.3 527.5,272.5 528.1,273.7 528.7,274.9 529.3,276.1 530.0,277.3 530.7,278.5 531.4,279.6 532.2,280.8 533.0,281.9 533.8,282.9 534.6,283.9 535.5,284.8 536.4,285.6 537.3,286.3 538.2,286.9 539.1,287.4 540.0,287.7 541.0,288.0 541.9,288.1 542.9,288.0 543.8,287.7 544.8,287.4 545.7,286.8 546.7,286.2 547.6,285.5 548.6,284.7 549.6,284.0 550.6,283.2 551.6,282.4 552.6,281.7 553.7,281.0 554.7,280.4 555.8,279.8 556.8,279.3 557.9,278.8 559.0,278.3 560.0,277.8 561.1,277.3 562.1,276.9 563.2,276.4 564.2,275.9 565.2,275.4 566.1,274.9 567.1,274.3 568.0,273.7 568.9,273.0 569.7,272.2 570.6,271.5 571.3,270.6 572.1,269.7 572.8,268.8 573.5,267.8 574.1,266.8 574.8,265.7 575.4,264.7 575.9,263.6 576.4,262.4 577.0,261.3 577.4,260.1 577.9,259.0 578.3,257.8 578.7,256.6 579.1,255.4 579.5,254.2 579.8,253.1 580.1,251.9 580.4,250.7 580.7,249.6 581.0,248.4 581.2,247.3 581.5,246.1 581.7,245.0 582.0,243.8 582.2,242.7 582.4,241.5 582.7,240.4 582.9,239.2 583.1,238.1 583.4,236.9 583.6,235.8 583.9,234.7 584.1,233.5 584.4,232.4 584.7,231.2 585.0,230.1 585.3,229.0 585.7,227.8 586.1,226.7 586.4,225.5 586.9,224.4 587.3,223.3 587.8,222.1 588.3,221.0 588.8,219.8 589.4,218.7 590.0,217.5 590.6,216.4 591.3,215.2 592.0,214.1 592.8,212.9 593.6,211.8 594.4,210.7 595.2,209.7 596.1,208.7 596.9,207.9 597.8,207.2 598.6,206.6 599.4,206.2 600.1,205.9 600.9,205.9 601.5,206.0 602.2,206.4 602.7,206.9 603.3,207.7 603.8,208.6 604.2,209.6 604.7,210.7 605.1,211.9 605.4,213.2 605.8,214.5 606.1,215.9 606.4,217.3 606.7,218.6 607.0,220.0 607.3,221.3 607.5,222.6 607.8,223.8 608.0,225.1 608.2,226.3 608.5,227.5 608.7,228.7 608.9,229.8 609.1,231.0 609.3,232.1 609.4,233.2 609.6,234.3 609.8,235.5 609.9,236.6 610.1,237.7 610.2,238.8 610.3,239.9 610.5,241.0 610.6,242.2 610.7,243.3 610.8,244.5 610.9,245.6 611.0,246.8 611.1,248.0 611.2,249.2 611.3,250.4 611.4,251.7 611.5,252.9 611.6,254.2 611.7,255.4 611.8,256.7 611.9,258.0 612.0,259.2 612.1,260.5 612.3,261.8 612.5,263.0 612.6,264.3 612.9,265.5 613.1,266.7 613.3,268.0 613.6,269.2 613.9,270.3 614.2,271.5 614.6,272.6 615.0,273.8 615.4,274.8 615.9,275.9 616.3,276.9 616.9,277.9 617.4,278.9 618.1,279.9 618.7,280.7 619.4,281.6 620.2,282.4 621.0,283.2 621.8,283.9 622.7,284.6 623.7,285.3 624.6,285.9 625.6,286.5 626.7,287.1 627.7,287.7 628.8,288.2 629.9,288.8 631.0,289.4 632.1,289.9 633.2,290.5 634.4,291.1 635.5,291.7 636.6,292.4 637.7,293.0 638.8,293.7 639.9,294.4 641.0,295.1 642.1,295.7 643.2,296.3 644.2,296.9 645.3,297.4 646.4,297.8 647.4,298.1 648.5,298.4 649.5,298.5 650.6,298.4 651.6,298.3 652.7,298.0 653.6,297.5 654.5,296.9 655.3,296.2 656.0,295.3 656.6,294.3 657.2,293.3 657.7,292.1 658.2,290.9 658.6,289.7 659.0,288.5 659.3,287.2 659.6,286.0 659.9,284.7 660.2,283.5 660.5,282.3 660.7,281.0 661.0,279.8 661.2,278.6 661.4,277.4 661.6,276.2 661.8,275.0 662.0,273.8 662.2,272.6 662.3,271.4 662.5,270.2 662.7,269.0 662.9,267.8 663.1,266.6 663.2,265.4 663.4,264.2 663.6,263.0 663.8,261.8 663.9,260.7 664.1,259.5 664.3,258.3 664.5,257.1 664.6,256.0 664.8,254.8 665.0,253.6 665.1,252.5 665.3,251.3 665.5,250.1 665.7,249.0 665.8,247.8 666.0,246.6 666.2,245.5 666.3,244.3 666.5,243.1 666.7,242.0 666.8,240.8 667.0,239.7 667.2,238.5 667.4,237.3 667.5,236.2 667.7,235.0 667.9,233.8 668.1,232.7 668.2,231.5 668.4,230.3 668.6,229.2 668.8,228.0 669.0,226.8 669.2,225.7 669.3,224.5 669.5,223.3 669.7,222.2 669.9,221.0 670.1,219.8 670.3,218.6 670.5,217.4 670.7,216.3 670.9,215.1 671.1,213.9 671.3,212.7 671.5,211.5 671.7,210.3 671.9,209.1 672.1,207.9 672.4,206.7 672.6,205.5 672.8,204.3 673.0,203.1 673.3,201.9 673.5,200.6 673.7,199.4 674.0,198.2 674.2,197.0 674.5,195.7 674.7,194.5 675.0,193.2 675.2,192.0 675.5,190.7 675.7,189.5 676.0,188.2 676.3,187.0 676.6,185.7 676.8,184.4 677.1,183.2 677.4,181.9 677.8,180.7 678.1,179.5 678.6,178.4 679.0,177.4 679.5,176.4 680.1,175.5 680.7,174.7 681.4,174.0 682.2,173.5 683.0,173.1 684.0,172.8 685.1,172.6 686.2,172.7 687.3,172.8 688.5,173.1 689.6,173.5 690.6,174.0 691.6,174.6 692.4,175.3 693.2,176.1 693.9,177.0 694.5,177.9 695.1,178.9 695.6,180.0 696.1,181.1 696.5,182.2 696.8,183.4 697.2,184.6 697.5,185.9 697.7,187.1 698.0,188.4 698.2,189.6 698.4,190.9 698.6,192.2 698.8,193.4 698.9,194.7 699.1,195.9 699.3,197.1 699.4,198.4 699.5,199.6 699.6,200.9 699.8,202.1 699.9,203.3 700.0,204.5 700.1,205.8 700.1,207.0 700.2,208.2 700.3,209.4 700.4,210.6 700.4,211.9 700.5,213.1 700.6,214.3 700.6,215.5 700.7,216.7 700.7,217.9 700.8,219.1 700.9,220.3 700.9,221.4 701.0,222.6 701.1,223.8 701.1,225.0 701.2,226.2 701.3,227.4 701.4,228.5 701.5,229.7 701.6,230.9 701.7,232.1 701.8,233.2 701.9,234.4 702.1,235.6 702.2,236.7 702.3,237.9 702.5,239.1 702.7,240.2 702.9,241.4 703.1,242.5 703.3,243.7 703.5,244.8 703.7,246.0 704.0,247.1 704.3,248.3 704.6,249.4 704.9,250.6 705.2,251.7 705.5,252.8 705.9,254.0 706.3,255.1 706.7,256.3 707.1,257.4 707.5,258.5 708.0,259.7 708.5,260.8 709.0,261.9 709.5,263.0 710.1,264.1 710.7,265.2 711.3,266.3 712.0,267.3 712.7,268.2 713.4,269.1 714.2,269.9 715.0,270.7 715.9,271.3 716.9,271.9 717.9,272.4 718.9,272.8 720.1,273.0 721.2,273.2 722.4,273.2 723.7,273.1 725.0,272.9 726.2,272.6 727.5,272.3 728.7,271.8 729.9,271.3 731.0,270.6 732.1,269.9 733.0,269.1 733.9,268.3 734.7,267.4 735.4,266.5 736.1,265.5 736.8,264.6 737.5,263.7 738.3,262.9 739.1,262.1 740.0,261.4 741.1,260.8 742.2,260.3 743.4,259.8 744.5,259.4 745.7,258.9 746.7,258.3 747.7,257.7 748.5,256.9 749.2,256.0 749.8,255.1 750.4,254.1 750.9,253.0 751.3,252.0 751.8,250.9 752.2,249.8 752.6,248.8 753.0,247.7 753.4,246.6 753.8,245.5 754.1,244.3 754.4,243.2 754.8,242.1 755.1,241.0 755.4,239.8 755.6,238.7 755.9,237.5 756.2,236.4 756.4,235.2 756.7,234.1 756.9,232.9 757.1,231.7 757.3,230.5 757.5,229.4 757.7,228.2 757.8,227.0 758.0,225.8 758.2,224.6 758.3,223.4 758.4,222.2 758.6,221.0 758.7,219.8 758.8,218.6 759.0,217.4 759.1,216.1 759.2,214.9 759.3,213.7 759.4,212.5 759.5,211.3 759.6,210.0 759.7,208.8 759.7,207.6 759.8,206.4 759.9,205.2 760.0,203.9 760.1,202.7 760.2,201.5 760.3,200.3 760.3,199.1 760.4,197.9 760.5,196.6 760.6,195.4 760.7,194.2 760.8,193.0 760.9,191.8 761.0,190.6 761.1,189.4 761.2,188.2 761.3,187.0 761.4,185.8 761.6,184.6 761.7,183.5 761.8,182.3 762.0,181.1 762.1,179.9 762.3,178.7 762.5,177.6 762.6,176.4 762.8,175.2 763.0,174.0 763.2,172.9 763.4,171.7 763.6,170.5 763.8,169.4 764.1,168.2 764.3,167.0 764.5,165.9 764.8,164.7 765.1,163.5 765.4,162.4 765.7,161.2 766.0,160.0 766.3,158.8 766.6,157.7 766.9,156.5 767.3,155.3 767.7,154.2 768.0,153.0 768.4,151.8 768.8,150.6 769.3,149.4 769.7,148.2 770.2,147.1 770.6,145.9 771.1,144.7 771.6,143.6 772.2,142.6 772.7,141.8 773.4,141.1 774.0,140.7 774.8,140.5 775.6,140.5 776.3,140.8 777.1,141.3 777.8,142.0 778.3,142.8 778.9,143.8 779.3,144.9 779.7,146.1 780.0,147.3 780.3,148.7 780.6,150.0 780.8,151.5 781.0,152.9 781.2,154.3 781.4,155.7 781.6,157.1 781.8,158.4 782.0,159.8 782.2,161.1 782.4,162.3 782.5,163.6 782.7,164.9 782.9,166.1 783.1,167.3 783.2,168.5 783.4,169.7 783.5,170.9 783.7,172.0 783.9,173.2 784.0,174.3 784.2,175.4 784.3,176.6 784.5,177.7 784.6,178.8 784.8,179.9 784.9,181.0 785.1,182.1 785.2,183.2 785.4,184.3 785.5,185.4 785.6,186.4 785.8,187.5 785.9,188.6 786.1,189.7 786.2,190.9 786.3,192.0 786.5,193.1 786.6,194.2 786.8,195.4 786.9,196.5 787.0,197.7 787.2,198.9 787.3,200.1 787.5,201.3 787.6,202.5 787.7,203.7 787.9,205.0 788.0,206.2 788.2,207.5 788.3,208.8 788.5,210.1 788.7,211.4 788.8,212.7 789.0,214.0 789.2,215.3 789.4,216.6 789.6,217.9 789.9,219.1 790.1,220.4 790.4,221.7 790.6,223.0 790.9,224.2 791.2,225.5 791.6,226.7 791.9,227.9 792.3,229.1 792.7,230.3 793.1,231.4 793.5,232.5 793.9,233.6 794.4,234.7 794.9,235.8 795.4,236.8 796.0,237.8 796.6,238.8 797.2,239.7 797.8,240.6 798.5,241.4 799.2,242.2 800.0,243.0 800.7,243.8 801.5,244.4 802.4,245.1 803.3,245.7 804.2,246.2 805.1,246.7 806.1,247.2 807.2,247.6 808.3,247.9 809.4,248.2 810.5,248.4 811.7,248.6 813.0,248.7 814.2,248.8 815.5,248.9 816.8,248.9 818.1,249.0 819.4,249.1 820.7,249.2 821.9,249.4 823.1,249.6 824.3,249.8 825.4,250.1 826.5,250.6 827.5,251.1 828.4,251.7 829.3,252.4 830.1,253.2 830.8,254.2 831.5,255.1 832.2,256.1 832.9,257.2 833.6,258.3 834.3,259.4 835.0,260.4 835.8,261.5 836.5,262.6 837.4,263.5 838.3,264.5 839.2,265.3 840.2,266.1 841.2,266.8 842.2,267.3 843.2,267.7 844.2,268.0 845.1,268.1 846.0,268.0 846.8,267.8 847.5,267.3 848.1,266.6 848.6,265.6 849.0,264.5 849.4,263.3 849.6,262.0 849.9,260.6 850.0,259.1 850.2,257.7 850.3,256.4 850.4,255.1 850.5,253.9 850.6,252.7 850.7,251.5 850.8,250.4 850.9,249.2 851.0,248.1 851.2,247.0 851.3,245.9 851.5,244.7 851.6,243.6 851.8,242.4 852.1,241.1 852.3,239.9 852.6,238.6 852.9,237.4 853.3,236.1 853.7,234.9 854.1,233.7 854.6,232.5 855.1,231.4 855.7,230.3 856.3,229.3 857.0,228.4 857.7,227.5 858.5,226.8 859.3,226.1 860.2,225.6 861.2,225.1 862.3,224.8 863.4,224.7 864.6,224.7 865.8,224.8 867.0,225.0 868.2,225.3 869.4,225.7 870.6,226.1 871.8,226.7 872.9,227.3 873.9,227.9 874.9,228.6 875.8,229.4 876.6,230.2 877.4,231.0 878.1,231.9 878.8,232.8 879.4,233.8 880.0,234.8 880.5,235.8 881.0,236.9 881.5,237.9 881.9,239.1 882.3,240.2 882.7,241.4 883.0,242.6 883.3,243.8 883.7,245.0 884.0,246.2 884.3,247.5 884.6,248.7 884.9,250.0 885.2,251.3 885.5,252.6 885.9,253.8 886.3,255.1 886.7,256.3 887.1,257.5 887.6,258.6 888.1,259.7 888.6,260.7 889.2,261.7 889.9,262.5 890.7,263.3 891.5,264.0 892.4,264.6 893.3,265.1 894.3,265.6 895.4,265.9 896.6,266.2 897.7,266.4 898.9,266.5 900.2,266.7 901.4,266.7 902.7,266.8 904.0,266.8 905.2,266.9 906.5,266.9 907.7,267.0 908.9,267.0 910.1,267.1 911.2,267.3 912.2,267.5 913.3,267.8 914.2,268.2 915.2,268.7 916.2,269.4 917.1,270.0 918.1,270.7 919.1,271.4 920.2,272.1 921.2,272.7 922.3,273.3 923.4,273.8 924.5,274.3 925.6,274.6 926.7,274.9 927.7,275.0 928.7,275.1 929.6,274.9 930.5,274.6 931.3,274.2 932.1,273.5 932.8,272.7 933.4,271.7 933.9,270.7 934.4,269.5 934.9,268.3 935.3,267.0 935.7,265.7 936.1,264.4 936.4,263.1 936.8,261.8 937.1,260.5 937.4,259.3 937.7,258.0 938.0,256.8 938.3,255.5 938.6,254.3 938.8,253.1 939.1,251.8 939.3,250.6 939.5,249.4 939.7,248.2 939.9,247.0 940.1,245.9 940.3,244.7 940.5,243.5 940.6,242.3 940.8,241.2 940.9,240.0 941.1,238.8 941.2,237.7 941.4,236.5 941.5,235.4 941.6,234.2 941.8,233.1 941.9,231.9 942.0,230.8 942.2,229.6 942.3,228.4 942.4,227.3 942.5,226.1 942.7,225.0 942.8,223.8 942.9,222.7 943.1,221.5 943.2,220.4 943.3,219.2 943.5,218.0 943.6,216.9 943.7,215.7 943.9,214.5 944.0,213.4 944.2,212.2 944.4,211.0 944.5,209.9 944.7,208.7 944.9,207.5 945.0,206.3 945.2,205.2 945.4,204.0 945.6,202.8 945.8,201.6 946.0,200.4 946.3,199.2 946.5,198.0 946.7,196.8 947.0,195.6 947.2,194.4 947.5,193.2 947.7,192.0 948.0,190.7 948.3,189.5 948.6,188.3 948.9,187.1 949.2,185.8 949.5,184.6 949.9,183.3 950.2,182.1 950.6,180.8 951.0,179.6 951.4,178.3 951.8,177.1 952.2,175.8 952.6,174.6 953.1,173.4 953.7,172.3 954.3,171.4 954.9,170.5 955.7,169.8 956.5,169.2 957.4,168.8 958.3,168.7 959.3,168.7 960.1,169.1 960.8,169.6 961.5,170.4 962.1,171.3 962.6,172.4 963.1,173.5 963.6,174.7 964.1,175.8 964.5,177.0 964.9,178.1 965.3,179.3 965.7,180.4 966.1,181.6 966.4,182.8 966.7,183.9 967.1,185.1 967.4,186.3 967.7,187.4 967.9,188.6 968.2,189.8 968.5,190.9 968.7,192.1 969.0,193.3 969.2,194.4 969.4,195.6 969.7,196.8 969.9,197.9 970.1,199.1 970.3,200.3 970.6,201.4 970.8,202.6 971.0,203.8 971.2,204.9 971.4,206.1 971.7,207.3 971.9,208.5 972.1,209.6 972.4,210.8 972.6,212.0 972.9,213.1 973.1,214.3 973.4,215.5 973.7,216.6 974.0,217.8 974.3,219.0 974.6,220.1 975.0,221.3 975.3,222.4 975.7,223.6 976.0,224.8 976.4,225.9 976.8,227.1 977.2,228.2 977.7,229.4 978.1,230.5 978.6,231.6 979.0,232.8 979.5,233.9 980.0,235.0 980.5,236.1 981.0,237.2 981.5,238.4 982.1,239.5 982.6,240.5 983.2,241.6 983.7,242.7 984.3,243.8 984.9,244.8 985.5,245.9 986.1,246.9 986.7,248.0 987.4,249.0 988.0,250.0 988.7,251.0 989.3,252.0 990.0,253.0 990.7,253.9 991.4,254.9 992.1,255.9 992.8,256.8 993.5,257.8 994.2,258.7 994.9,259.6 995.7,260.5 996.4,261.5 997.2,262.4 997.9,263.3 998.7,264.2 999.4,265.1 1000.2,266.0 1000.9,266.9 1001.7,267.8 1002.5,268.7 1003.2,269.6 1004.0,270.5 1004.8,271.4 1005.6,272.3 1006.3,273.2 1007.1,274.1 1007.9,275.0 1008.7,275.9 1009.5,276.8 1010.2,277.7 1011.0,278.6 1011.8,279.5 1012.5,280.4 1013.3,281.4 1014.1,282.3 1014.8,283.3 1015.6,284.2 1016.3,285.2 1017.1,286.1 1017.8,287.1 1018.6,288.1 1019.3,289.1 1020.0,290.1 1020.7,291.1 1021.4,292.2 1022.1,293.2 1022.8,294.3 1023.5,295.3 1024.2,296.4 1024.9,297.5 1025.5,298.5 1026.2,299.5 1026.9,300.4 1027.6,301.1 1028.3,301.7 1029.1,302.1 1029.9,302.2 1030.7,302.1 1031.5,301.7 1032.2,301.2 1033.0,300.5 1033.6,299.7 1034.2,298.8 1034.7,297.8 1035.1,296.7 1035.5,295.5 1035.8,294.2 1036.1,292.9 1036.3,291.6 1036.6,290.2 1036.8,288.8 1037.0,287.4 1037.1,286.1 1037.3,284.7 1037.5,283.4 1037.7,282.1 1037.9,280.9 1038.1,279.7 1038.3,278.6 1038.5,277.4 1038.8,276.3 1039.0,275.2 1039.3,274.1 1039.6,273.0 1039.9,271.9 1040.2,270.8 1040.5,269.7 1040.9,268.5 1041.3,267.3 1041.7,266.0 1042.1,264.7 1042.5,263.4 1043.0,262.0 1043.5,260.8 1044.1,259.5 1044.7,258.3 1045.3,257.3 1046.0,256.3 1046.8,255.5 1047.6,254.8 1048.5,254.3 1049.4,253.9 1050.4,253.7 1051.4,253.7 1052.4,253.8 1053.4,254.1 1054.3,254.5 1055.2,255.0 1056.0,255.6 1056.8,256.4 1057.5,257.2 1058.0,258.2 1058.6,259.2 1059.0,260.3 1059.4,261.5 1059.7,262.7 1060.0,263.9 1060.2,265.2 1060.5,266.6 1060.7,267.9 1060.9,269.3 1061.1,270.6 1061.3,271.9 1061.5,273.2 1061.7,274.5 1061.9,275.8 1062.2,277.0 1062.5,278.2 1062.7,279.4 1063.0,280.6 1063.3,281.8 1063.6,283.0 1063.9,284.1 1064.2,285.2 1064.6,286.4 1064.9,287.5 1065.2,288.6 1065.6,289.7 1065.9,290.8 1066.2,291.9 1066.6,293.0 1066.9,294.1 1067.3,295.2 1067.6,296.3 1068.0,297.4 1068.3,298.5 1068.6,299.6 1069.0,300.7 1069.3,301.9 1069.6,303.0 1069.9,304.2 1070.2,305.4 1070.5,306.6 1070.8,307.8 1071.0,309.0 1071.3,310.2 1071.6,311.5 1071.8,312.7 1072.1,314.0 1072.4,315.2 1072.8,316.4 1073.1,317.6 1073.5,318.8 1073.9,319.9 1074.4,320.9 1075.0,321.9 1075.6,322.9 1076.3,323.8 1077.0,324.6 1077.8,325.3 1078.7,325.9 1079.7,326.4 1080.8,326.9 1082.0,327.2 1083.3,327.5 1084.5,327.8 1085.8,328.0 1087.0,328.4 1088.2,328.8 1089.2,329.2 1090.3,329.8 1091.2,330.4 1092.1,331.1 1093.0,331.9 1093.8,332.7 1094.5,333.6 1095.3,334.5 1095.9,335.4 1096.6,336.4 1097.3,337.4 1097.9,338.5 1098.5,339.6 1099.1,340.7 1099.7,341.8 1100.3,342.9 1100.9,344.0 1101.5,345.1 1102.1,346.2 1102.8,347.2 1103.4,348.3 1104.1,349.3 1104.9,350.2 1105.6,351.2 1106.4,352.0 1107.3,352.8 1108.2,353.5 1109.2,354.2 1110.2,354.8 1111.3,355.3 1112.4,355.7 1113.6,356.0 1114.8,356.2 1116.1,356.3 1117.3,356.3 1118.5,356.2 1119.6,356.0 1120.7,355.7 1121.7,355.3 1122.6,354.8 1123.4,354.1 1124.1,353.4 1124.8,352.6 1125.3,351.7 1125.8,350.7 1126.2,349.6 1126.5,348.5 1126.8,347.3 1127.0,346.1 1127.2,344.9 1127.4,343.6 1127.6,342.2 1127.7,340.9 1127.8,339.6 1127.9,338.3 1128.1,336.9 1128.2,335.6 1128.4,334.4 1128.6,333.1 1128.8,331.9 1129.0,330.7 1129.3,329.5 1129.5,328.4 1129.8,327.2 1130.1,326.1 1130.4,325.0 1130.6,323.9 1130.9,322.8 1131.2,321.7 1131.4,320.5 1131.6,319.4 1131.9,318.3 1132.0,317.1 1132.2,315.9 1132.4,314.7 1132.5,313.5 1132.7,312.3 1132.8,311.1 1133.0,309.9 1133.1,308.7 1133.3,307.5 1133.6,306.3 1133.8,305.2 1134.1,304.0 1134.5,302.9 1134.9,301.7 1135.4,300.6 1135.9,299.6 1136.5,298.5 1137.1,297.5 1137.9,296.5 1138.7,295.6 1139.6,294.7 1140.6,293.9 1141.7,293.1 1142.8,292.4 1143.9,291.7 1145.1,291.1 1146.3,290.6 1147.4,290.2 1148.6,289.9 1149.8,289.7 1150.9,289.6 1152.0,289.6 1153.1,289.8 1154.1,290.0 1155.0,290.4 1155.9,291.0 1156.6,291.6 1157.3,292.5 1157.9,293.4 1158.4,294.5 1158.8,295.6 1159.2,296.7 1159.6,297.9 1159.9,299.1 1160.2,300.3 1160.5,301.4 1160.7,302.6 1161.0,303.7 1161.2,304.9 1161.4,306.0 1161.6,307.1 1161.7,308.2 1161.9,309.4 1162.0,310.5 1162.1,311.6 1162.3,312.8 1162.4,313.9 1162.5,315.1 1162.6,316.3 1162.7,317.5 1162.8,318.7 1162.9,319.9 1163.0,321.1 1163.0,322.4 1163.1,323.6 1163.2,324.9 1163.3,326.1 1163.4,327.4 1163.5,328.6 1163.6,329.9 1163.7,331.2 1163.8,332.4 1164.0,333.7 1164.1,335.0 1164.3,336.2 1164.4,337.5 1164.6,338.8 1164.8,340.0 1165.0,341.2 1165.2,342.5 1165.4,343.7 1165.7,344.9 1166.0,346.1 1166.2,347.3 1166.6,348.5 1166.9,349.6 1167.3,350.8 1167.6,351.9 1168.0,353.0 1168.5,354.1 1168.9,355.1 1169.4,356.2 1169.9,357.2 1170.5,358.2 1171.1,359.2 1171.7,360.1 1172.3,361.0 1173.0,361.9 1173.7,362.8 1174.5,363.6 1175.3,364.4 1176.1,365.2 1176.9,366.0 1177.8,366.7 1178.7,367.5 1179.6,368.2 1180.5,368.9 1181.4,369.6 1182.4,370.3 1183.4,371.1 1184.3,371.8 1185.3,372.6 1186.3,373.3 1187.2,374.1 1188.2,374.9 1189.1,375.7 1190.1,376.5 1191.0,377.4 1192.0,378.2 1192.9,379.0 1193.9,379.9 1194.8,380.6 1195.8,381.4 1196.8,382.1 1197.8,382.8 1198.8,383.4 1199.8,384.0 1200.8,384.5 1201.8,384.9 1202.9,385.3 1203.9,385.5 1204.9,385.6 1205.8,385.5 1206.7,385.3 1207.5,385.0 1208.2,384.5 1208.9,384.0 1209.6,383.3 1210.2,382.5 1210.8,381.6 1211.3,380.6 1211.8,379.6 1212.2,378.5 1212.7,377.3 1213.1,376.1 1213.4,374.8 1213.8,373.6 1214.1,372.3 1214.4,371.0 1214.7,369.7 1215.0,368.4 1215.3,367.1 1215.5,365.8 1215.8,364.5 1216.0,363.2 1216.3,362.0 1216.5,360.7 1216.7,359.5 1216.9,358.2 1217.1,356.9 1217.3,355.7 1217.5,354.5 1217.7,353.2 1217.9,352.0 1218.0,350.8 1218.2,349.5 1218.3,348.3 1218.5,347.1 1218.6,345.9 1218.8,344.7 1218.9,343.5 1219.0,342.2 1219.1,341.0 1219.2,339.8 1219.3,338.6 1219.4,337.5 1219.5,336.3 1219.6,335.1 1219.7,333.9 1219.8,332.7 1219.9,331.5 1220.0,330.3 1220.1,329.2 1220.2,328.0 1220.3,326.8 1220.3,325.6 1220.4,324.5 1220.5,323.3 1220.6,322.1 1220.7,321.0 1220.8,319.8 1220.8,318.6 1220.9,317.5 1221.0,316.3 1221.1,315.1 1221.2,314.0 1221.3,312.8 1221.4,311.6 1221.5,310.5 1221.6,309.3 1221.7,308.1 1221.8,307.0 1221.9,305.8 1222.0,304.6 1222.1,303.5 1222.2,302.3 1222.4,301.2 1222.5,300.0 1222.7,298.8 1222.8,297.6 1223.0,296.5 1223.1,295.3 1223.3,294.1 1223.5,293.0 1223.6,291.8 1223.8,290.6 1224.0,289.4 1224.2,288.2 1224.4,287.1 1224.7,285.9 1224.9,284.7 1225.1,283.5 1225.4,282.3 1225.6,281.1 1225.9,279.9 1226.2,278.7 1226.5,277.5 1226.8,276.3 1227.0,275.1 1227.3,273.9 1227.6,272.7 1227.9,271.5 1228.1,270.3 1228.4,269.1 1228.6,267.9 1228.8,266.7 1229.1,265.5 1229.3,264.3 1229.5,263.1 1229.7,261.9 1229.8,260.7 1230.0,259.5 1230.2,258.3 1230.4,257.1 1230.7,256.0 1230.9,254.8 1231.2,253.6 1231.5,252.4 1231.8,251.3 1232.2,250.1 1232.5,248.9 1233.0,247.8 1233.5,246.6 1234.0,245.5 1234.6,244.4 1235.3,243.4 1236.0,242.5 1236.9,241.9 1237.9,241.5 1239.0,241.3 1240.1,241.3 1241.2,241.4 1242.3,241.7 1243.3,242.1 1244.3,242.5 1245.2,243.1 1246.0,243.7 1246.8,244.4 1247.5,245.2 1248.2,246.0 1248.9,246.9 1249.4,247.9 1250.0,248.9 1250.5,250.0 1251.0,251.1 1251.4,252.2 1251.8,253.4 1252.2,254.6 1252.5,255.8 1252.9,257.1 1253.1,258.3 1253.4,259.6 1253.7,260.9 1253.9,262.1 1254.1,263.4 1254.3,264.6 1254.5,265.9 1254.7,267.1 1254.9,268.4 1255.1,269.6 1255.2,270.8 1255.3,272.1 1255.5,273.3 1255.6,274.5 1255.7,275.7 1255.8,276.9 1255.9,278.1 1256.0,279.3 1256.1,280.5 1256.2,281.7 1256.3,282.9 1256.4,284.0 1256.5,285.2 1256.5,286.4 1256.6,287.6 1256.7,288.7 1256.8,289.9 1256.8,291.1 1256.9,292.2 1257.0,293.4 1257.1,294.6 1257.2,295.7 1257.3,296.9 1257.3,298.0 1257.4,299.2 1257.5,300.4 1257.7,301.5 1257.8,302.7 1257.9,303.9 1258.0,305.0 1258.2,306.2 1258.3,307.4 1258.5,308.5 1258.7,309.7 1258.8,310.9 1259.0,312.1 1259.2,313.3 1259.5,314.5 1259.7,315.6 1260.0,316.8 1260.2,318.0 1260.5,319.2 1260.8,320.4 1261.1,321.7 1261.4,322.9 1261.8,324.1 1262.2,325.3 1262.5,326.5 1263.0,327.7 1263.4,328.9 1263.8,330.0 1264.3,331.2 1264.8,332.3 1265.3,333.4 1265.8,334.5 1266.4,335.6 1267.0,336.6 1267.6,337.7 1268.2,338.7 1268.9,339.6 1269.5,340.5 1270.2,341.4 1271.0,342.3 1271.7,343.1 1272.5,343.9 1273.3,344.6 1274.2,345.3 1275.1,345.9 1276.0,346.5 1276.9,347.0 1277.8,347.5 1278.8,347.9 1279.9,348.2 1280.9,348.5 1282.0,348.8 1283.1,348.9 1284.3,349.0 1285.5,349.1 1286.7,349.0 1288.0,348.9 1289.2,348.7 1290.5,348.5 1291.8,348.1 1293.1,347.8 1294.4,347.3 1295.6,346.8 1296.9,346.3 1298.1,345.7 1299.2,345.0 1300.3,344.3 1301.4,343.6 1302.4,342.8 1303.3,342.0 1304.1,341.1 1304.8,340.2 1305.5,339.2 1306.0,338.3 1306.5,337.2 1306.8,336.2 1307.0,335.1" fill="none" stroke="#ff2b2b" stroke-width="2" stroke-linejoin="round" stroke-linecap="round"/>
<g><use href="#moon" x="57.8" y="241.5"/><use href="#moon" x="80.7" y="269.6"/><use href="#sun" x="101.6" y="268.2"/><g transform="translate(107.4,272.3) scale(0.67)"><use href="#cl"/></g><use href="#sun" x="125.6" y="155.0"/><use href="#moon" x="149.8" y="236.7"/><use href="#moon" x="172.8" y="258.6"/><use href="#sun" x="192.1" y="251.3"/><use href="#clb" x="197.0" y="255.2"/><use href="#cl" x="219.8" y="126.9"/><use href="#cl" x="242.5" y="217.5"/><use href="#cl" x="265.1" y="242.2"/><use href="#cl" x="288.5" y="238.2"/><use href="#drop" x="286.0" y="242.3"/><use href="#drop" x="286.6" y="246.5"/><use href="#drop" x="293.7" y="246.5"/><circle cx="290.4" cy="243.5" r="0.8" fill="#0b4c9e"/><use href="#sun" x="309.9" y="113.4"/><g transform="translate(315.7,117.5) scale(0.67)"><use href="#cl"/></g><use href="#cl" x="334.4" y="205.3"/><use href="#moon" x="360.3" y="224.4"/><use href="#clb" x="357.2" y="231.5"/><use href="#cl" x="380.3" y="232.7"/><use href="#cl" x="403.6" y="98.0"/><use href="#cl" x="426.5" y="193.4"/><use href="#cl" x="450.6" y="230.9"/><use href="#drop" x="448.1" y="235.0"/><use href="#drop" x="448.7" y="239.2"/><use href="#drop" x="455.8" y="239.2"/><circle cx="452.5" cy="236.2" r="0.8" fill="#0b4c9e"/><use href="#cl" x="472.9" y="249.4"/><use href="#sun" x="493.1" y="161.8"/><use href="#clb" x="498.0" y="165.7"/><use href="#moon" x="522.4" y="235.8"/><use href="#clb" x="519.3" y="242.9"/><use href="#cl" x="542.5" y="269.4"/><use href="#cl" x="565.5" y="256.9"/><use href="#drop" x="567.8" y="264.0"/><use href="#cl" x="588.2" y="198.0"/><use href="#moon" x="611.6" y="253.9"/><use href="#cl" x="634.2" y="274.3"/><use href="#cl" x="657.3" y="265.7"/><use href="#cl" x="681.6" y="152.9"/><use href="#moon" x="704.5" y="239.6"/><use href="#moon" x="729.9" y="251.0"/><use href="#clb" x="726.8" y="258.1"/><use href="#sun" x="746.8" y="235.0"/><use href="#clb" x="751.7" y="238.9"/><use href="#sun" x="770.1" y="119.0"/><use href="#clb" x="775.0" y="122.9"/><use href="#cl" x="796.5" y="226.1"/><use href="#drop" x="798.8" y="233.2"/><use href="#cl" x="819.6" y="229.8"/><use href="#drop" x="817.1" y="233.9"/><use href="#drop" x="817.7" y="238.1"/><use href="#drop" x="824.8" y="238.1"/><circle cx="821.5" cy="235.1" r="0.8" fill="#0b4c9e"/><use href="#cl" x="842.4" y="249.5"/><use href="#cl" x="865.5" y="205.3"/><use href="#cl" x="888.5" y="245.5"/><use href="#cl" x="911.9" y="247.6"/><use href="#sun" x="932.1" y="241.1"/><use href="#clb" x="937.0" y="245.0"/><use href="#sun" x="958.4" y="150.3"/><use href="#cl" x="981.6" y="224.7"/><use href="#cl" x="1004.4" y="254.0"/><use href="#sun" x="1027.2" y="285.5"/><use href="#sun" x="1050.4" y="235.3"/><use href="#moon" x="1076.0" y="304.6"/><use href="#clb" x="1072.9" y="311.7"/><use href="#drop" x="1076.3" y="318.2"/><use href="#cl" x="1096.5" y="324.3"/><use href="#cl" x="1119.6" y="336.2"/><use href="#drop" x="1121.9" y="343.3"/><use href="#cl" x="1143.3" y="271.6"/><use href="#moon" x="1166.6" y="334.8"/><use href="#moon" x="1189.7" y="359.7"/><use href="#sun" x="1211.8" y="350.9"/><use href="#sun" x="1234.7" y="223.0"/><use href="#moon" x="1259.0" y="297.5"/><use href="#moon" x="1282.1" y="330.2"/><use href="#sun" x="1304.0" y="317.8"/></g>
<text class="dl" x="59.7" y="418.3">0.1</text><text class="dl" x="267.6" y="418.8">0.1</text><text class="dl" x="290.7" y="335.4">1.6</text><text class="dl" x="440.9" y="389.8">0.6</text><text class="dl" x="452.5" y="254.1">3.0</text><text class="dl" x="464.0" y="335.4">1.6</text><text class="dl" x="487.1" y="412.2">0.2</text><text class="dl" x="510.2" y="394.2">0.5</text><text class="dl" x="521.8" y="415.1">0.1</text><text class="dl" x="556.5" y="415.1">0.1</text><text class="dl" x="568.0" y="394.2">0.5</text><text class="dl" x="579.6" y="415.1">0.1</text><text class="dl" x="787.5" y="419.0">0.1</text><text class="dl" x="810.6" y="397.1">0.4</text><text class="dl" x="822.2" y="358.9">1.1</text><text class="dl" x="833.7" y="401.2">0.4</text><text class="dl" x="972.4" y="418.8">0.1</text><text class="dl" x="1053.2" y="419.0">0.1</text><text class="dl" x="1076.3" y="397.2">0.4</text><text class="dl" x="1087.9" y="411.2">0.2</text><text class="dl" x="1122.6" y="401.1">0.4</text><text class="dl" x="1145.7" y="415.2">0.1</text>
<path d="M49.20,436.60 L41.50,450.37 M49.20,436.60 L52.52,438.45" stroke="#000" stroke-width="1.45" fill="none" stroke-linecap="butt"/><path d="M39.30,454.30 L44.83,449.95 L40.12,447.31 Z" fill="#000"/><path d="M88.40,442.60 L72.88,446.27 M88.40,442.60 L89.27,446.30" stroke="#000" stroke-width="1.45" fill="none" stroke-linecap="butt"/><path d="M68.50,447.30 L75.45,448.43 L74.21,443.18 Z" fill="#000"/><path d="M123.60,444.20 L107.48,445.53" stroke="#000" stroke-width="1.45" fill="none" stroke-linecap="butt"/><path d="M103.00,445.90 L109.70,448.06 L109.26,442.67 Z" fill="#000"/><path d="M158.80,441.90 L142.53,446.48 M158.80,441.90 L160.59,448.25" stroke="#000" stroke-width="1.45" fill="none" stroke-linecap="butt"/><path d="M138.20,447.70 L145.19,448.54 L143.72,443.34 Z" fill="#000"/><path d="M189.40,452.60 L179.46,439.76" stroke="#000" stroke-width="1.45" fill="none" stroke-linecap="butt"/><path d="M176.70,436.20 L178.55,442.99 L182.81,439.69 Z" fill="#000"/><path d="M227.90,444.20 L211.49,445.06" stroke="#000" stroke-width="1.45" fill="none" stroke-linecap="butt"/><path d="M207.00,445.30 L213.63,447.65 L213.35,442.26 Z" fill="#000"/><path d="M262.50,446.90 L246.08,442.95" stroke="#000" stroke-width="1.45" fill="none" stroke-linecap="butt"/><path d="M241.70,441.90 L247.39,446.04 L248.65,440.79 Z" fill="#000"/><path d="M282.60,453.20 L290.74,439.19 M282.60,453.20 L279.31,451.29" stroke="#000" stroke-width="1.45" fill="none" stroke-linecap="butt"/><path d="M293.00,435.30 L287.40,439.56 L292.07,442.28 Z" fill="#000"/><path d="M331.80,443.70 L314.97,445.75 M331.80,443.70 L332.26,447.47" stroke="#000" stroke-width="1.45" fill="none" stroke-linecap="butt"/><path d="M310.50,446.30 L317.28,448.19 L316.62,442.83 Z" fill="#000"/><path d="M365.30,449.90 L350.99,441.56" stroke="#000" stroke-width="1.45" fill="none" stroke-linecap="butt"/><path d="M347.10,439.30 L351.36,444.90 L354.08,440.24 Z" fill="#000"/><path d="M383.00,449.50 L396.90,441.54 M383.00,449.50 L381.11,446.20" stroke="#000" stroke-width="1.45" fill="none" stroke-linecap="butt"/><path d="M400.80,439.30 L393.82,440.19 L396.50,444.87 Z" fill="#000"/><path d="M434.80,440.90 L419.92,447.40" stroke="#000" stroke-width="1.45" fill="none" stroke-linecap="butt"/><path d="M415.80,449.20 L422.84,449.07 L420.68,444.12 Z" fill="#000"/><path d="M450.30,447.30 L467.22,443.33 M450.30,447.30 L448.79,440.87 M453.12,446.64 L452.44,443.72" stroke="#000" stroke-width="1.45" fill="none" stroke-linecap="butt"/><path d="M471.60,442.30 L464.65,441.16 L465.89,446.41 Z" fill="#000"/><path d="M486.20,447.70 L501.23,442.72 M486.20,447.70 L485.00,444.09" stroke="#000" stroke-width="1.45" fill="none" stroke-linecap="butt"/><path d="M505.50,441.30 L498.48,440.78 L500.18,445.91 Z" fill="#000"/><path d="M522.10,450.30 L535.23,441.00 M522.10,450.30 L519.90,447.20" stroke="#000" stroke-width="1.45" fill="none" stroke-linecap="butt"/><path d="M538.90,438.40 L532.04,439.95 L535.16,444.36 Z" fill="#000"/><path d="M558.70,452.30 L568.79,439.71 M558.70,452.30 L555.73,449.92" stroke="#000" stroke-width="1.45" fill="none" stroke-linecap="butt"/><path d="M571.60,436.20 L565.43,439.58 L569.64,442.96 Z" fill="#000"/><path d="M588.80,445.00 L605.80,444.68 M588.80,445.00 L588.68,438.40" stroke="#000" stroke-width="1.45" fill="none" stroke-linecap="butt"/><path d="M610.30,444.60 L603.75,442.02 L603.85,447.42 Z" fill="#000"/><path d="M628.90,453.00 L637.57,439.49 M628.90,453.00 L625.70,450.95" stroke="#000" stroke-width="1.45" fill="none" stroke-linecap="butt"/><path d="M640.00,435.70 L634.22,439.71 L638.76,442.63 Z" fill="#000"/><path d="M663.20,453.00 L672.04,439.47 M663.20,453.00 L660.02,450.92" stroke="#000" stroke-width="1.45" fill="none" stroke-linecap="butt"/><path d="M674.50,435.70 L668.68,439.67 L673.21,442.62 Z" fill="#000"/><path d="M695.30,438.60 L708.25,449.42" stroke="#000" stroke-width="1.45" fill="none" stroke-linecap="butt"/><path d="M711.70,452.30 L708.44,446.06 L704.98,450.20 Z" fill="#000"/><path d="M734.60,453.90 L740.00,438.64 M734.60,453.90 L731.02,452.63" stroke="#000" stroke-width="1.45" fill="none" stroke-linecap="butt"/><path d="M741.50,434.40 L736.79,439.63 L741.88,441.43 Z" fill="#000"/><path d="M770.90,454.20 L773.47,438.44 M770.90,454.20 L767.15,453.59" stroke="#000" stroke-width="1.45" fill="none" stroke-linecap="butt"/><path d="M774.20,434.00 L770.49,439.98 L775.82,440.85 Z" fill="#000"/><path d="M799.70,450.80 L812.09,440.82 M799.70,450.80 L797.32,447.84" stroke="#000" stroke-width="1.45" fill="none" stroke-linecap="butt"/><path d="M815.60,438.00 L808.84,439.97 L812.23,444.18 Z" fill="#000"/><path d="M832.20,448.60 L847.88,442.85 M832.20,448.60 L829.93,442.40" stroke="#000" stroke-width="1.45" fill="none" stroke-linecap="butt"/><path d="M852.10,441.30 L845.07,441.00 L846.93,446.07 Z" fill="#000"/><path d="M869.40,451.90 L880.82,440.48 M869.40,451.90 L866.71,449.21" stroke="#000" stroke-width="1.45" fill="none" stroke-linecap="butt"/><path d="M884.00,437.30 L877.49,439.99 L881.31,443.81 Z" fill="#000"/><path d="M906.60,453.50 L913.56,438.96" stroke="#000" stroke-width="1.45" fill="none" stroke-linecap="butt"/><path d="M915.50,434.90 L910.26,439.60 L915.13,441.93 Z" fill="#000"/><path d="M938.90,450.80 L950.61,440.56 M938.90,450.80 L936.40,447.94" stroke="#000" stroke-width="1.45" fill="none" stroke-linecap="butt"/><path d="M954.00,437.60 L947.33,439.85 L950.88,443.91 Z" fill="#000"/><path d="M970.30,442.30 L986.56,446.72 M970.30,442.30 L972.03,435.93 M973.10,443.06 L973.89,440.17" stroke="#000" stroke-width="1.45" fill="none" stroke-linecap="butt"/><path d="M990.90,447.90 L985.34,443.59 L983.92,448.80 Z" fill="#000"/><path d="M1004.50,446.60 L1021.05,444.00 M1004.50,446.60 L1003.48,440.08 M1007.36,446.15 L1006.90,443.19" stroke="#000" stroke-width="1.45" fill="none" stroke-linecap="butt"/><path d="M1025.50,443.30 L1018.66,441.64 L1019.50,446.98 Z" fill="#000"/><path d="M1039.40,444.60 L1056.20,444.60 M1039.40,444.60 L1039.40,438.00 M1042.30,444.60 L1042.30,441.60" stroke="#000" stroke-width="1.45" fill="none" stroke-linecap="butt"/><path d="M1060.70,444.60 L1054.20,441.90 L1054.20,447.30 Z" fill="#000"/><path d="M1073.90,444.20 L1091.11,445.07 M1073.90,444.20 L1074.23,437.61" stroke="#000" stroke-width="1.45" fill="none" stroke-linecap="butt"/><path d="M1095.60,445.30 L1089.25,442.27 L1088.97,447.67 Z" fill="#000"/><path d="M1108.90,447.30 L1125.72,443.33 M1108.90,447.30 L1107.38,440.88" stroke="#000" stroke-width="1.45" fill="none" stroke-linecap="butt"/><path d="M1130.10,442.30 L1123.15,441.16 L1124.39,446.42 Z" fill="#000"/><path d="M1145.30,440.00 L1159.39,448.07 M1145.30,440.00 L1147.19,436.70" stroke="#000" stroke-width="1.45" fill="none" stroke-linecap="butt"/><path d="M1163.30,450.30 L1159.00,444.73 L1156.32,449.42 Z" fill="#000"/><path d="M1187.20,454.30 L1188.99,438.47 M1187.20,454.30 L1183.42,453.87" stroke="#000" stroke-width="1.45" fill="none" stroke-linecap="butt"/><path d="M1189.50,434.00 L1186.09,440.15 L1191.45,440.76 Z" fill="#000"/><path d="M1231.60,449.20 L1217.43,442.19" stroke="#000" stroke-width="1.45" fill="none" stroke-linecap="butt"/><path d="M1213.40,440.20 L1218.03,445.50 L1220.42,440.66 Z" fill="#000"/><path d="M1267.40,442.90 L1251.40,446.35 M1267.40,442.90 L1268.79,449.35" stroke="#000" stroke-width="1.45" fill="none" stroke-linecap="butt"/><path d="M1247.00,447.30 L1253.92,448.57 L1252.78,443.29 Z" fill="#000"/><path d="M1297.10,453.50 L1289.14,439.60" stroke="#000" stroke-width="1.45" fill="none" stroke-linecap="butt"/><path d="M1286.90,435.70 L1287.79,442.68 L1292.47,440.00 Z" fill="#000"/>
<text class="lbl" x="29.1" y="433.7" text-anchor="end">0<tspan dy="-1.1" style="font-size:8.2px">°</tspan></text>
<text class="lbl" x="29.1" y="374.9" text-anchor="end">5<tspan dy="-1.1" style="font-size:8.2px">°</tspan></text>
<text class="lbl" x="29.1" y="316.1" text-anchor="end">10<tspan dy="-1.1" style="font-size:8.2px">°</tspan></text>
<text class="lbl" x="29.1" y="257.4" text-anchor="end">15<tspan dy="-1.1" style="font-size:8.2px">°</tspan></text>
<text class="lbl" x="29.1" y="198.6" text-anchor="end">20<tspan dy="-1.1" style="font-size:8.2px">°</tspan></text>
<text class="lbl" x="29.1" y="139.8" text-anchor="end">25<tspan dy="-1.1" style="font-size:8.2px">°</tspan></text>
<text class="lbl" x="1328.6" y="434.3">0</text>
<text class="lbl" x="1328.6" y="366.9">1.2</text>
<text class="lbl" x="1328.6" y="299.5">2.4</text>
<text class="lbl" x="1328.6" y="232.1">3.6</text>
<text class="lbl" x="1328.6" y="164.7">4.8</text>
<text class="lbl" x="1328.6" y="97.3">6</text>
<clipPath id="rc"><rect x="1300" y="150" width="53" height="250"/></clipPath>
<g clip-path="url(#rc)"><text id="ptitle" transform="translate(1348.5,261.9) rotate(90)" text-anchor="middle" style="font-size:11.3px;fill:#666">Precipitation (mm)</text></g>
<text class="lbl" x="47.2" y="478.8" text-anchor="middle" style="font-size:11px;letter-spacing:0.7px">18</text>
<text class="lbl" x="70.3" y="478.8" text-anchor="middle" style="font-size:11px;letter-spacing:0.7px">00</text>
<text class="lbl" x="93.4" y="478.8" text-anchor="middle" style="font-size:11px;letter-spacing:0.7px">06</text>
<text class="lbl" x="116.5" y="478.8" text-anchor="middle" style="font-size:11px;letter-spacing:0.7px">12</text>
<text class="lbl" x="139.6" y="478.8" text-anchor="middle" style="font-size:11px;letter-spacing:0.7px">18</text>
<text class="lbl" x="162.7" y="478.8" text-anchor="middle" style="font-size:11px;letter-spacing:0.7px">00</text>
<text class="lbl" x="185.7" y="478.8" text-anchor="middle" style="font-size:11px;letter-spacing:0.7px">06</text>
<text class="lbl" x="208.8" y="478.8" text-anchor="middle" style="font-size:11px;letter-spacing:0.7px">12</text>
<text class="lbl" x="231.9" y="478.8" text-anchor="middle" style="font-size:11px;letter-spacing:0.7px">18</text>
<text class="lbl" x="255.0" y="478.8" text-anchor="middle" style="font-size:11px;letter-spacing:0.7px">00</text>
<text class="lbl" x="278.1" y="478.8" text-anchor="middle" style="font-size:11px;letter-spacing:0.7px">06</text>
<text class="lbl" x="301.2" y="478.8" text-anchor="middle" style="font-size:11px;letter-spacing:0.7px">12</text>
<text class="lbl" x="324.2" y="478.8" text-anchor="middle" style="font-size:11px;letter-spacing:0.7px">18</text>
<text class="lbl" x="347.3" y="478.8" text-anchor="middle" style="font-size:11px;letter-spacing:0.7px">00</text>
<text class="lbl" x="370.4" y="478.8" text-anchor="middle" style="font-size:11px;letter-spacing:0.7px">06</text>
<text class="lbl" x="393.5" y="478.8" text-anchor="middle" style="font-size:11px;letter-spacing:0.7px">12</text>
<text class="lbl" x="416.6" y="478.8" text-anchor="middle" style="font-size:11px;letter-spacing:0.7px">18</text>
<text class="lbl" x="439.7" y="478.8" text-anchor="middle" style="font-size:11px;letter-spacing:0.7px">00</text>
<text class="lbl" x="462.7" y="478.8" text-anchor="middle" style="font-size:11px;letter-spacing:0.7px">06</text>
<text class="lbl" x="485.8" y="478.8" text-anchor="middle" style="font-size:11px;letter-spacing:0.7px">12</text>
<text class="lbl" x="508.9" y="478.8" text-anchor="middle" style="font-size:11px;letter-spacing:0.7px">18</text>
<text class="lbl" x="532.0" y="478.8" text-anchor="middle" style="font-size:11px;letter-spacing:0.7px">00</text>
<text class="lbl" x="555.1" y="478.8" text-anchor="middle" style="font-size:11px;letter-spacing:0.7px">06</text>
<text class="lbl" x="578.2" y="478.8" text-anchor="middle" style="font-size:11px;letter-spacing:0.7px">12</text>
<text class="lbl" x="601.2" y="478.8" text-anchor="middle" style="font-size:11px;letter-spacing:0.7px">18</text>
<text class="lbl" x="624.3" y="478.8" text-anchor="middle" style="font-size:11px;letter-spacing:0.7px">00</text>
<text class="lbl" x="647.4" y="478.8" text-anchor="middle" style="font-size:11px;letter-spacing:0.7px">06</text>
<text class="lbl" x="670.5" y="478.8" text-anchor="middle" style="font-size:11px;letter-spacing:0.7px">12</text>
<text class="lbl" x="693.6" y="478.8" text-anchor="middle" style="font-size:11px;letter-spacing:0.7px">18</text>
<text class="lbl" x="716.7" y="478.8" text-anchor="middle" style="font-size:11px;letter-spacing:0.7px">00</text>
<text class="lbl" x="739.7" y="478.8" text-anchor="middle" style="font-size:11px;letter-spacing:0.7px">06</text>
<text class="lbl" x="762.8" y="478.8" text-anchor="middle" style="font-size:11px;letter-spacing:0.7px">12</text>
<text class="lbl" x="785.9" y="478.8" text-anchor="middle" style="font-size:11px;letter-spacing:0.7px">18</text>
<text class="lbl" x="809.0" y="478.8" text-anchor="middle" style="font-size:11px;letter-spacing:0.7px">00</text>
<text class="lbl" x="832.1" y="478.8" text-anchor="middle" style="font-size:11px;letter-spacing:0.7px">06</text>
<text class="lbl" x="855.2" y="478.8" text-anchor="middle" style="font-size:11px;letter-spacing:0.7px">12</text>
<text class="lbl" x="878.2" y="478.8" text-anchor="middle" style="font-size:11px;letter-spacing:0.7px">18</text>
<text class="lbl" x="901.3" y="478.8" text-anchor="middle" style="font-size:11px;letter-spacing:0.7px">00</text>
<text class="lbl" x="924.4" y="478.8" text-anchor="middle" style="font-size:11px;letter-spacing:0.7px">06</text>
<text class="lbl" x="947.5" y="478.8" text-anchor="middle" style="font-size:11px;letter-spacing:0.7px">12</text>
<text class="lbl" x="970.6" y="478.8" text-anchor="middle" style="font-size:11px;letter-spacing:0.7px">18</text>
<text class="lbl" x="993.7" y="478.8" text-anchor="middle" style="font-size:11px;letter-spacing:0.7px">00</text>
<text class="lbl" x="1016.7" y="478.8" text-anchor="middle" style="font-size:11px;letter-spacing:0.7px">06</text>
<text class="lbl" x="1039.8" y="478.8" text-anchor="middle" style="font-size:11px;letter-spacing:0.7px">12</text>
<text class="lbl" x="1062.9" y="478.8" text-anchor="middle" style="font-size:11px;letter-spacing:0.7px">18</text>
<text class="lbl" x="1086.0" y="478.8" text-anchor="middle" style="font-size:11px;letter-spacing:0.7px">00</text>
<text class="lbl" x="1109.1" y="478.8" text-anchor="middle" style="font-size:11px;letter-spacing:0.7px">06</text>
<text class="lbl" x="1132.2" y="478.8" text-anchor="middle" style="font-size:11px;letter-spacing:0.7px">12</text>
<text class="lbl" x="1155.2" y="478.8" text-anchor="middle" style="font-size:11px;letter-spacing:0.7px">18</text>
<text class="lbl" x="1178.3" y="478.8" text-anchor="middle" style="font-size:11px;letter-spacing:0.7px">00</text>
<text class="lbl" x="1201.4" y="478.8" text-anchor="middle" style="font-size:11px;letter-spacing:0.7px">06</text>
<text class="lbl" x="1224.5" y="478.8" text-anchor="middle" style="font-size:11px;letter-spacing:0.7px">12</text>
<text class="lbl" x="1247.6" y="478.8" text-anchor="middle" style="font-size:11px;letter-spacing:0.7px">18</text>
<text class="lbl" x="1270.6" y="478.8" text-anchor="middle" style="font-size:11px;letter-spacing:0.7px">00</text>
<text class="lbl" x="1293.7" y="478.8" text-anchor="middle" style="font-size:11px;letter-spacing:0.7px">06</text>
<text x="672.3" y="498.6" text-anchor="middle" style="font-size:11.7px;fill:#666">Local time (UTC+2)</text>
<text x="1313.2" y="494.8" text-anchor="end" style="font-size:8.75px;fill:#999">wetterzentrale.de</text>
<text x="677.9" y="22.7" text-anchor="middle" style="font-size:14.75px;fill:#333">GFS München 80331 (DE) 48N, 11.5E</text>
<text x="543.9" y="35.4" style="font-size:11.7px;fill:#666">Init: Thu, 14Sep2023 12Z</text>
<text x="718.0" y="35.4" style="font-size:11.8px;fill:#666">06:52</text>
<text x="778.0" y="35.4" style="font-size:11.8px;fill:#666">19:26</text>
<g stroke="#000" fill="none"><line x1="697.0" y1="41.3" x2="715.0" y2="41.3" stroke-width="1.3"/><path d="M701.9,40.9 A4.1,3.7 0 0 1 710.1,40.9" stroke-width="1.5"/><line x1="700.99" y1="38.58" x2="698.58" y2="37.60" stroke-width="1.55"/><line x1="702.98" y1="36.12" x2="701.53" y2="33.97" stroke-width="1.55"/><line x1="706.00" y1="35.20" x2="706.00" y2="32.60" stroke-width="1.55"/><line x1="709.02" y1="36.12" x2="710.47" y2="33.97" stroke-width="1.55"/><line x1="711.01" y1="38.58" x2="713.42" y2="37.60" stroke-width="1.55"/></g><path d="M706.0,24.2 L703.6,27.6 L708.4,27.6 Z" fill="#000"/><line x1="706.0" y1="27" x2="706.0" y2="31" stroke="#000" stroke-width="1.4"/>
<g stroke="#000" fill="none"><line x1="756.2" y1="41.3" x2="774.2" y2="41.3" stroke-width="1.3"/><path d="M761.1,40.9 A4.1,3.7 0 0 1 769.3,40.9" stroke-width="1.5"/><line x1="760.19" y1="38.58" x2="757.78" y2="37.60" stroke-width="1.55"/><line x1="762.18" y1="36.12" x2="760.73" y2="33.97" stroke-width="1.55"/><line x1="765.20" y1="35.20" x2="765.20" y2="32.60" stroke-width="1.55"/><line x1="768.22" y1="36.12" x2="769.67" y2="33.97" stroke-width="1.55"/><line x1="770.21" y1="38.58" x2="772.62" y2="37.60" stroke-width="1.55"/></g><path d="M765.2,31.2 L762.8,27.8 L767.6,27.8 Z" fill="#000"/><line x1="765.2" y1="24" x2="765.2" y2="28.5" stroke="#000" stroke-width="1.4"/>
<g stroke="#666" stroke-width="2.6" stroke-linecap="round"><line x1="1325" y1="16.4" x2="1339.2" y2="16.4"/><line x1="1325" y1="21.4" x2="1339.2" y2="21.4"/><line x1="1325" y1="26.4" x2="1339.2" y2="26.4"/></g>
</svg></body></html>
